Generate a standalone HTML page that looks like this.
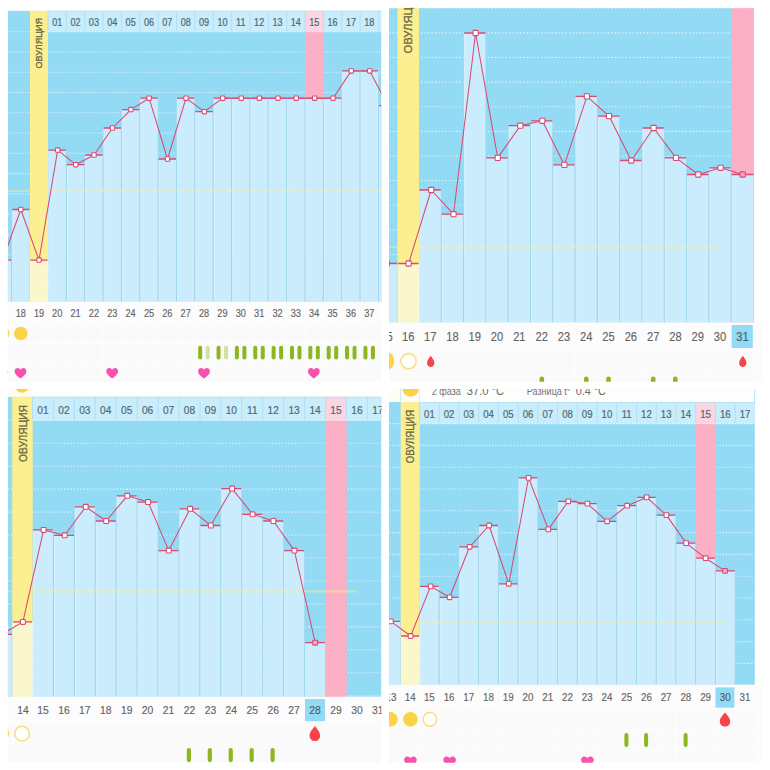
<!DOCTYPE html><html><head><meta charset="utf-8"><title>charts</title>
<style>html,body{margin:0;padding:0;background:#fff;}body{width:770px;height:770px;overflow:hidden;font-family:"Liberation Sans",sans-serif;}svg{display:block;font-family:"Liberation Sans",sans-serif;}</style></head><body>
<svg width="770" height="770" viewBox="0 0 770 770">
<rect x="0" y="0" width="770" height="770" fill="#ffffff" />
<rect x="753.9" y="322.5" width="8.3" height="59.2" fill="#FCFCFC" />
<rect x="754.9" y="684.8" width="7.5" height="77.9" fill="#FCFCFC" />
<clipPath id="c1"><rect x="7.8" y="8.2" width="373.6" height="373.5"/></clipPath>
<g clip-path="url(#c1)">
<rect x="7.8" y="10.9" width="373.6" height="290.8" fill="#93DAF4" />
<rect x="305.04" y="31.7" width="18.36" height="270" fill="#FBB0C5" />
<line x1="7.8" y1="31.7" x2="381.4" y2="31.7" stroke="#ffffff" stroke-width="1.1" stroke-dasharray="1.15 1.75" opacity="0.72"/>
<line x1="7.8" y1="51.97" x2="381.4" y2="51.97" stroke="#ffffff" stroke-width="1.1" stroke-dasharray="1.15 1.75" opacity="0.72"/>
<line x1="7.8" y1="72.24" x2="381.4" y2="72.24" stroke="#ffffff" stroke-width="1.1" stroke-dasharray="1.15 1.75" opacity="0.72"/>
<line x1="7.8" y1="92.51" x2="381.4" y2="92.51" stroke="#ffffff" stroke-width="1.1" stroke-dasharray="1.15 1.75" opacity="0.72"/>
<line x1="7.8" y1="112.78" x2="381.4" y2="112.78" stroke="#ffffff" stroke-width="1.1" stroke-dasharray="1.15 1.75" opacity="0.72"/>
<line x1="7.8" y1="133.05" x2="381.4" y2="133.05" stroke="#ffffff" stroke-width="1.1" stroke-dasharray="1.15 1.75" opacity="0.72"/>
<line x1="7.8" y1="153.32" x2="381.4" y2="153.32" stroke="#ffffff" stroke-width="1.1" stroke-dasharray="1.15 1.75" opacity="0.72"/>
<line x1="7.8" y1="173.59" x2="381.4" y2="173.59" stroke="#ffffff" stroke-width="1.1" stroke-dasharray="1.15 1.75" opacity="0.72"/>
<line x1="7.8" y1="193.86" x2="381.4" y2="193.86" stroke="#ffffff" stroke-width="1.1" stroke-dasharray="1.15 1.75" opacity="0.72"/>
<line x1="7.8" y1="214.13" x2="381.4" y2="214.13" stroke="#ffffff" stroke-width="1.1" stroke-dasharray="1.15 1.75" opacity="0.72"/>
<line x1="7.8" y1="234.4" x2="381.4" y2="234.4" stroke="#ffffff" stroke-width="1.1" stroke-dasharray="1.15 1.75" opacity="0.72"/>
<line x1="7.8" y1="254.67" x2="381.4" y2="254.67" stroke="#ffffff" stroke-width="1.1" stroke-dasharray="1.15 1.75" opacity="0.72"/>
<line x1="7.8" y1="274.94" x2="381.4" y2="274.94" stroke="#ffffff" stroke-width="1.1" stroke-dasharray="1.15 1.75" opacity="0.72"/>
<line x1="7.8" y1="295.21" x2="381.4" y2="295.21" stroke="#ffffff" stroke-width="1.1" stroke-dasharray="1.15 1.75" opacity="0.72"/>
<rect x="305.04" y="32.5" width="18.36" height="269.2" fill="#FBB0C5" />
<rect x="30" y="10.9" width="18" height="249.2" fill="#FBEF92" />
<rect x="30" y="260.1" width="18" height="41.6" fill="#FBF7CC" />
<rect x="7.8" y="260.1" width="3.9" height="41.6" fill="#CBECFD" />
<rect x="11.7" y="209.5" width="18.3" height="92.2" fill="#CBECFD" />
<rect x="48" y="150.1" width="18.36" height="151.6" fill="#CBECFD" />
<rect x="66.36" y="164.7" width="18.36" height="137" fill="#CBECFD" />
<rect x="84.72" y="155" width="18.36" height="146.7" fill="#CBECFD" />
<rect x="103.08" y="128" width="18.36" height="173.7" fill="#CBECFD" />
<rect x="121.44" y="109.6" width="18.36" height="192.1" fill="#CBECFD" />
<rect x="139.8" y="98.2" width="18.36" height="203.5" fill="#CBECFD" />
<rect x="158.16" y="159" width="18.36" height="142.7" fill="#CBECFD" />
<rect x="176.52" y="98.2" width="18.36" height="203.5" fill="#CBECFD" />
<rect x="194.88" y="111.7" width="18.36" height="190" fill="#CBECFD" />
<rect x="213.24" y="98.2" width="18.36" height="203.5" fill="#CBECFD" />
<rect x="231.6" y="98.2" width="18.36" height="203.5" fill="#CBECFD" />
<rect x="249.96" y="98.2" width="18.36" height="203.5" fill="#CBECFD" />
<rect x="268.32" y="98.2" width="18.36" height="203.5" fill="#CBECFD" />
<rect x="286.68" y="98.2" width="18.36" height="203.5" fill="#CBECFD" />
<rect x="305.04" y="98.2" width="18.36" height="203.5" fill="#CBECFD" />
<rect x="323.4" y="98.2" width="18.36" height="203.5" fill="#CBECFD" />
<rect x="341.76" y="70.9" width="18.36" height="230.8" fill="#CBECFD" />
<rect x="360.12" y="70.9" width="18.36" height="230.8" fill="#CBECFD" />
<rect x="378.5" y="105.7" width="2.9" height="196" fill="#CBECFD" />
<line x1="7.8" y1="260.1" x2="7.8" y2="301.7" stroke="#9CD1EA" stroke-width="0.9" opacity="0.7"/>
<line x1="11.7" y1="260.1" x2="11.7" y2="301.7" stroke="#9CD1EA" stroke-width="0.9" opacity="0.7"/>
<line x1="8.8" y1="261.1" x2="8.8" y2="301.7" stroke="#DDF4FE" stroke-width="0.9" opacity="0.7"/>
<line x1="11.7" y1="209.5" x2="11.7" y2="301.7" stroke="#9CD1EA" stroke-width="0.9" opacity="0.7"/>
<line x1="30" y1="209.5" x2="30" y2="301.7" stroke="#9CD1EA" stroke-width="0.9" opacity="0.7"/>
<line x1="12.7" y1="210.5" x2="12.7" y2="301.7" stroke="#DDF4FE" stroke-width="0.9" opacity="0.7"/>
<line x1="48" y1="150.1" x2="48" y2="301.7" stroke="#9CD1EA" stroke-width="0.9" opacity="0.7"/>
<line x1="66.36" y1="150.1" x2="66.36" y2="301.7" stroke="#9CD1EA" stroke-width="0.9" opacity="0.7"/>
<line x1="49" y1="151.1" x2="49" y2="301.7" stroke="#DDF4FE" stroke-width="0.9" opacity="0.7"/>
<line x1="66.36" y1="164.7" x2="66.36" y2="301.7" stroke="#9CD1EA" stroke-width="0.9" opacity="0.7"/>
<line x1="84.72" y1="164.7" x2="84.72" y2="301.7" stroke="#9CD1EA" stroke-width="0.9" opacity="0.7"/>
<line x1="67.36" y1="165.7" x2="67.36" y2="301.7" stroke="#DDF4FE" stroke-width="0.9" opacity="0.7"/>
<line x1="84.72" y1="155" x2="84.72" y2="301.7" stroke="#9CD1EA" stroke-width="0.9" opacity="0.7"/>
<line x1="103.08" y1="155" x2="103.08" y2="301.7" stroke="#9CD1EA" stroke-width="0.9" opacity="0.7"/>
<line x1="85.72" y1="156" x2="85.72" y2="301.7" stroke="#DDF4FE" stroke-width="0.9" opacity="0.7"/>
<line x1="103.08" y1="128" x2="103.08" y2="301.7" stroke="#9CD1EA" stroke-width="0.9" opacity="0.7"/>
<line x1="121.44" y1="128" x2="121.44" y2="301.7" stroke="#9CD1EA" stroke-width="0.9" opacity="0.7"/>
<line x1="104.08" y1="129" x2="104.08" y2="301.7" stroke="#DDF4FE" stroke-width="0.9" opacity="0.7"/>
<line x1="121.44" y1="109.6" x2="121.44" y2="301.7" stroke="#9CD1EA" stroke-width="0.9" opacity="0.7"/>
<line x1="139.8" y1="109.6" x2="139.8" y2="301.7" stroke="#9CD1EA" stroke-width="0.9" opacity="0.7"/>
<line x1="122.44" y1="110.6" x2="122.44" y2="301.7" stroke="#DDF4FE" stroke-width="0.9" opacity="0.7"/>
<line x1="139.8" y1="98.2" x2="139.8" y2="301.7" stroke="#9CD1EA" stroke-width="0.9" opacity="0.7"/>
<line x1="158.16" y1="98.2" x2="158.16" y2="301.7" stroke="#9CD1EA" stroke-width="0.9" opacity="0.7"/>
<line x1="140.8" y1="99.2" x2="140.8" y2="301.7" stroke="#DDF4FE" stroke-width="0.9" opacity="0.7"/>
<line x1="158.16" y1="159" x2="158.16" y2="301.7" stroke="#9CD1EA" stroke-width="0.9" opacity="0.7"/>
<line x1="176.52" y1="159" x2="176.52" y2="301.7" stroke="#9CD1EA" stroke-width="0.9" opacity="0.7"/>
<line x1="159.16" y1="160" x2="159.16" y2="301.7" stroke="#DDF4FE" stroke-width="0.9" opacity="0.7"/>
<line x1="176.52" y1="98.2" x2="176.52" y2="301.7" stroke="#9CD1EA" stroke-width="0.9" opacity="0.7"/>
<line x1="194.88" y1="98.2" x2="194.88" y2="301.7" stroke="#9CD1EA" stroke-width="0.9" opacity="0.7"/>
<line x1="177.52" y1="99.2" x2="177.52" y2="301.7" stroke="#DDF4FE" stroke-width="0.9" opacity="0.7"/>
<line x1="194.88" y1="111.7" x2="194.88" y2="301.7" stroke="#9CD1EA" stroke-width="0.9" opacity="0.7"/>
<line x1="213.24" y1="111.7" x2="213.24" y2="301.7" stroke="#9CD1EA" stroke-width="0.9" opacity="0.7"/>
<line x1="195.88" y1="112.7" x2="195.88" y2="301.7" stroke="#DDF4FE" stroke-width="0.9" opacity="0.7"/>
<line x1="213.24" y1="98.2" x2="213.24" y2="301.7" stroke="#9CD1EA" stroke-width="0.9" opacity="0.7"/>
<line x1="231.6" y1="98.2" x2="231.6" y2="301.7" stroke="#9CD1EA" stroke-width="0.9" opacity="0.7"/>
<line x1="214.24" y1="99.2" x2="214.24" y2="301.7" stroke="#DDF4FE" stroke-width="0.9" opacity="0.7"/>
<line x1="231.6" y1="98.2" x2="231.6" y2="301.7" stroke="#9CD1EA" stroke-width="0.9" opacity="0.7"/>
<line x1="249.96" y1="98.2" x2="249.96" y2="301.7" stroke="#9CD1EA" stroke-width="0.9" opacity="0.7"/>
<line x1="232.6" y1="99.2" x2="232.6" y2="301.7" stroke="#DDF4FE" stroke-width="0.9" opacity="0.7"/>
<line x1="249.96" y1="98.2" x2="249.96" y2="301.7" stroke="#9CD1EA" stroke-width="0.9" opacity="0.7"/>
<line x1="268.32" y1="98.2" x2="268.32" y2="301.7" stroke="#9CD1EA" stroke-width="0.9" opacity="0.7"/>
<line x1="250.96" y1="99.2" x2="250.96" y2="301.7" stroke="#DDF4FE" stroke-width="0.9" opacity="0.7"/>
<line x1="268.32" y1="98.2" x2="268.32" y2="301.7" stroke="#9CD1EA" stroke-width="0.9" opacity="0.7"/>
<line x1="286.68" y1="98.2" x2="286.68" y2="301.7" stroke="#9CD1EA" stroke-width="0.9" opacity="0.7"/>
<line x1="269.32" y1="99.2" x2="269.32" y2="301.7" stroke="#DDF4FE" stroke-width="0.9" opacity="0.7"/>
<line x1="286.68" y1="98.2" x2="286.68" y2="301.7" stroke="#9CD1EA" stroke-width="0.9" opacity="0.7"/>
<line x1="305.04" y1="98.2" x2="305.04" y2="301.7" stroke="#9CD1EA" stroke-width="0.9" opacity="0.7"/>
<line x1="287.68" y1="99.2" x2="287.68" y2="301.7" stroke="#DDF4FE" stroke-width="0.9" opacity="0.7"/>
<line x1="305.04" y1="98.2" x2="305.04" y2="301.7" stroke="#9CD1EA" stroke-width="0.9" opacity="0.7"/>
<line x1="323.4" y1="98.2" x2="323.4" y2="301.7" stroke="#9CD1EA" stroke-width="0.9" opacity="0.7"/>
<line x1="306.04" y1="99.2" x2="306.04" y2="301.7" stroke="#DDF4FE" stroke-width="0.9" opacity="0.7"/>
<line x1="323.4" y1="98.2" x2="323.4" y2="301.7" stroke="#9CD1EA" stroke-width="0.9" opacity="0.7"/>
<line x1="341.76" y1="98.2" x2="341.76" y2="301.7" stroke="#9CD1EA" stroke-width="0.9" opacity="0.7"/>
<line x1="324.4" y1="99.2" x2="324.4" y2="301.7" stroke="#DDF4FE" stroke-width="0.9" opacity="0.7"/>
<line x1="341.76" y1="70.9" x2="341.76" y2="301.7" stroke="#9CD1EA" stroke-width="0.9" opacity="0.7"/>
<line x1="360.12" y1="70.9" x2="360.12" y2="301.7" stroke="#9CD1EA" stroke-width="0.9" opacity="0.7"/>
<line x1="342.76" y1="71.9" x2="342.76" y2="301.7" stroke="#DDF4FE" stroke-width="0.9" opacity="0.7"/>
<line x1="360.12" y1="70.9" x2="360.12" y2="301.7" stroke="#9CD1EA" stroke-width="0.9" opacity="0.7"/>
<line x1="378.48" y1="70.9" x2="378.48" y2="301.7" stroke="#9CD1EA" stroke-width="0.9" opacity="0.7"/>
<line x1="361.12" y1="71.9" x2="361.12" y2="301.7" stroke="#DDF4FE" stroke-width="0.9" opacity="0.7"/>
<line x1="378.5" y1="105.7" x2="378.5" y2="301.7" stroke="#9CD1EA" stroke-width="0.9" opacity="0.7"/>
<line x1="381.4" y1="105.7" x2="381.4" y2="301.7" stroke="#9CD1EA" stroke-width="0.9" opacity="0.7"/>
<line x1="379.5" y1="106.7" x2="379.5" y2="301.7" stroke="#DDF4FE" stroke-width="0.9" opacity="0.7"/>
<line x1="7.8" y1="190.9" x2="381.4" y2="190.9" stroke="#F5F09A" stroke-width="2.2" opacity="0.44"/>
<rect x="30" y="10.9" width="18" height="249.2" fill="#FBEF92" />
<rect x="30" y="260.1" width="18" height="41.6" fill="#FBF7CC" />
<line x1="48" y1="260.1" x2="48" y2="301.7" stroke="#ffffff" stroke-width="1" stroke-dasharray="14 2" opacity="0.5"/>
<rect x="48" y="10.9" width="18.36" height="20.8" fill="#C9EDFB" />
<line x1="48" y1="10.9" x2="48" y2="31.7" stroke="#B2DFF3" stroke-width="0.9" />
<rect x="66.36" y="10.9" width="18.36" height="20.8" fill="#C9EDFB" />
<line x1="66.36" y1="10.9" x2="66.36" y2="31.7" stroke="#B2DFF3" stroke-width="0.9" />
<rect x="84.72" y="10.9" width="18.36" height="20.8" fill="#C9EDFB" />
<line x1="84.72" y1="10.9" x2="84.72" y2="31.7" stroke="#B2DFF3" stroke-width="0.9" />
<rect x="103.08" y="10.9" width="18.36" height="20.8" fill="#C9EDFB" />
<line x1="103.08" y1="10.9" x2="103.08" y2="31.7" stroke="#B2DFF3" stroke-width="0.9" />
<rect x="121.44" y="10.9" width="18.36" height="20.8" fill="#C9EDFB" />
<line x1="121.44" y1="10.9" x2="121.44" y2="31.7" stroke="#B2DFF3" stroke-width="0.9" />
<rect x="139.8" y="10.9" width="18.36" height="20.8" fill="#C9EDFB" />
<line x1="139.8" y1="10.9" x2="139.8" y2="31.7" stroke="#B2DFF3" stroke-width="0.9" />
<rect x="158.16" y="10.9" width="18.36" height="20.8" fill="#C9EDFB" />
<line x1="158.16" y1="10.9" x2="158.16" y2="31.7" stroke="#B2DFF3" stroke-width="0.9" />
<rect x="176.52" y="10.9" width="18.36" height="20.8" fill="#C9EDFB" />
<line x1="176.52" y1="10.9" x2="176.52" y2="31.7" stroke="#B2DFF3" stroke-width="0.9" />
<rect x="194.88" y="10.9" width="18.36" height="20.8" fill="#C9EDFB" />
<line x1="194.88" y1="10.9" x2="194.88" y2="31.7" stroke="#B2DFF3" stroke-width="0.9" />
<rect x="213.24" y="10.9" width="18.36" height="20.8" fill="#C9EDFB" />
<line x1="213.24" y1="10.9" x2="213.24" y2="31.7" stroke="#B2DFF3" stroke-width="0.9" />
<rect x="231.6" y="10.9" width="18.36" height="20.8" fill="#C9EDFB" />
<line x1="231.6" y1="10.9" x2="231.6" y2="31.7" stroke="#B2DFF3" stroke-width="0.9" />
<rect x="249.96" y="10.9" width="18.36" height="20.8" fill="#C9EDFB" />
<line x1="249.96" y1="10.9" x2="249.96" y2="31.7" stroke="#B2DFF3" stroke-width="0.9" />
<rect x="268.32" y="10.9" width="18.36" height="20.8" fill="#C9EDFB" />
<line x1="268.32" y1="10.9" x2="268.32" y2="31.7" stroke="#B2DFF3" stroke-width="0.9" />
<rect x="286.68" y="10.9" width="18.36" height="20.8" fill="#C9EDFB" />
<line x1="286.68" y1="10.9" x2="286.68" y2="31.7" stroke="#B2DFF3" stroke-width="0.9" />
<rect x="305.04" y="10.9" width="18.36" height="20.8" fill="#FCD5E0" />
<line x1="305.04" y1="10.9" x2="305.04" y2="31.7" stroke="#B2DFF3" stroke-width="0.9" />
<rect x="323.4" y="10.9" width="18.36" height="20.8" fill="#C9EDFB" />
<line x1="323.4" y1="10.9" x2="323.4" y2="31.7" stroke="#B2DFF3" stroke-width="0.9" />
<rect x="341.76" y="10.9" width="18.36" height="20.8" fill="#C9EDFB" />
<line x1="341.76" y1="10.9" x2="341.76" y2="31.7" stroke="#B2DFF3" stroke-width="0.9" />
<rect x="360.12" y="10.9" width="18.36" height="20.8" fill="#C9EDFB" />
<line x1="360.12" y1="10.9" x2="360.12" y2="31.7" stroke="#B2DFF3" stroke-width="0.9" />
<rect x="378.5" y="10.9" width="2.9" height="20.8" fill="#C9EDFB" />
<line x1="378.5" y1="10.9" x2="378.5" y2="31.7" stroke="#B2DFF3" stroke-width="0.9" />
<line x1="48" y1="11.3" x2="381.4" y2="11.3" stroke="#B2DFF3" stroke-width="0.8" />
<text transform="translate(57.18 25.94) scale(0.9 1)" font-size="10.1" fill="#4F6975" text-anchor="middle" stroke="#4F6975" stroke-width="0.2">01</text>
<text transform="translate(75.54 25.94) scale(0.9 1)" font-size="10.1" fill="#4F6975" text-anchor="middle" stroke="#4F6975" stroke-width="0.2">02</text>
<text transform="translate(93.9 25.94) scale(0.9 1)" font-size="10.1" fill="#4F6975" text-anchor="middle" stroke="#4F6975" stroke-width="0.2">03</text>
<text transform="translate(112.26 25.94) scale(0.9 1)" font-size="10.1" fill="#4F6975" text-anchor="middle" stroke="#4F6975" stroke-width="0.2">04</text>
<text transform="translate(130.62 25.94) scale(0.9 1)" font-size="10.1" fill="#4F6975" text-anchor="middle" stroke="#4F6975" stroke-width="0.2">05</text>
<text transform="translate(148.98 25.94) scale(0.9 1)" font-size="10.1" fill="#4F6975" text-anchor="middle" stroke="#4F6975" stroke-width="0.2">06</text>
<text transform="translate(167.34 25.94) scale(0.9 1)" font-size="10.1" fill="#4F6975" text-anchor="middle" stroke="#4F6975" stroke-width="0.2">07</text>
<text transform="translate(185.7 25.94) scale(0.9 1)" font-size="10.1" fill="#4F6975" text-anchor="middle" stroke="#4F6975" stroke-width="0.2">08</text>
<text transform="translate(204.06 25.94) scale(0.9 1)" font-size="10.1" fill="#4F6975" text-anchor="middle" stroke="#4F6975" stroke-width="0.2">09</text>
<text transform="translate(222.42 25.94) scale(0.9 1)" font-size="10.1" fill="#4F6975" text-anchor="middle" stroke="#4F6975" stroke-width="0.2">10</text>
<text transform="translate(240.78 25.94) scale(0.9 1)" font-size="10.1" fill="#4F6975" text-anchor="middle" stroke="#4F6975" stroke-width="0.2">11</text>
<text transform="translate(259.14 25.94) scale(0.9 1)" font-size="10.1" fill="#4F6975" text-anchor="middle" stroke="#4F6975" stroke-width="0.2">12</text>
<text transform="translate(277.5 25.94) scale(0.9 1)" font-size="10.1" fill="#4F6975" text-anchor="middle" stroke="#4F6975" stroke-width="0.2">13</text>
<text transform="translate(295.86 25.94) scale(0.9 1)" font-size="10.1" fill="#4F6975" text-anchor="middle" stroke="#4F6975" stroke-width="0.2">14</text>
<text transform="translate(314.22 25.94) scale(0.9 1)" font-size="10.1" fill="#4F6975" text-anchor="middle" stroke="#4F6975" stroke-width="0.2">15</text>
<text transform="translate(332.58 25.94) scale(0.9 1)" font-size="10.1" fill="#4F6975" text-anchor="middle" stroke="#4F6975" stroke-width="0.2">16</text>
<text transform="translate(350.94 25.94) scale(0.9 1)" font-size="10.1" fill="#4F6975" text-anchor="middle" stroke="#4F6975" stroke-width="0.2">17</text>
<text transform="translate(369.3 25.94) scale(0.9 1)" font-size="10.1" fill="#4F6975" text-anchor="middle" stroke="#4F6975" stroke-width="0.2">18</text>
<text transform="translate(379.95 25.94) scale(0.9 1)" font-size="10.1" fill="#4F6975" text-anchor="middle" stroke="#4F6975" stroke-width="0.2"></text>
<line x1="48" y1="31.7" x2="381.4" y2="31.7" stroke="#ffffff" stroke-width="1.1" stroke-dasharray="1.15 1.75" opacity="0.72"/>
<line x1="8.3" y1="260.1" x2="11.2" y2="260.1" stroke="#D84A72" stroke-width="1.3" />
<line x1="12.2" y1="209.5" x2="29.5" y2="209.5" stroke="#D84A72" stroke-width="1.3" />
<line x1="30.5" y1="260.1" x2="47.5" y2="260.1" stroke="#D84A72" stroke-width="1.3" />
<line x1="48.5" y1="150.1" x2="65.86" y2="150.1" stroke="#D84A72" stroke-width="1.3" />
<line x1="66.86" y1="164.7" x2="84.22" y2="164.7" stroke="#D84A72" stroke-width="1.3" />
<line x1="85.22" y1="155" x2="102.58" y2="155" stroke="#D84A72" stroke-width="1.3" />
<line x1="103.58" y1="128" x2="120.94" y2="128" stroke="#D84A72" stroke-width="1.3" />
<line x1="121.94" y1="109.6" x2="139.3" y2="109.6" stroke="#D84A72" stroke-width="1.3" />
<line x1="140.3" y1="98.2" x2="157.66" y2="98.2" stroke="#D84A72" stroke-width="1.3" />
<line x1="158.66" y1="159" x2="176.02" y2="159" stroke="#D84A72" stroke-width="1.3" />
<line x1="177.02" y1="98.2" x2="194.38" y2="98.2" stroke="#D84A72" stroke-width="1.3" />
<line x1="195.38" y1="111.7" x2="212.74" y2="111.7" stroke="#D84A72" stroke-width="1.3" />
<line x1="213.74" y1="98.2" x2="231.1" y2="98.2" stroke="#D84A72" stroke-width="1.3" />
<line x1="232.1" y1="98.2" x2="249.46" y2="98.2" stroke="#D84A72" stroke-width="1.3" />
<line x1="250.46" y1="98.2" x2="267.82" y2="98.2" stroke="#D84A72" stroke-width="1.3" />
<line x1="268.82" y1="98.2" x2="286.18" y2="98.2" stroke="#D84A72" stroke-width="1.3" />
<line x1="287.18" y1="98.2" x2="304.54" y2="98.2" stroke="#D84A72" stroke-width="1.3" />
<line x1="305.54" y1="98.2" x2="322.9" y2="98.2" stroke="#D84A72" stroke-width="1.3" />
<line x1="323.9" y1="98.2" x2="341.26" y2="98.2" stroke="#D84A72" stroke-width="1.3" />
<line x1="342.26" y1="70.9" x2="359.62" y2="70.9" stroke="#D84A72" stroke-width="1.3" />
<line x1="360.62" y1="70.9" x2="377.98" y2="70.9" stroke="#D84A72" stroke-width="1.3" />
<line x1="379" y1="105.7" x2="381.5" y2="105.7" stroke="#D84A72" stroke-width="1.3" />
<polyline points="7.8,245.8 20.8,209.5 39,260.1 57.7,150.1 75.8,164.7 94,155 112.5,128 130.9,109.6 149.1,98.2 167.5,159 186,98.2 204.3,111.7 222.7,98.2 241.2,98.2 259.4,98.2 278,98.2 296.2,98.2 314.7,98.2 333,98.2 351.3,70.9 369.7,70.9 388,105.7" fill="none" stroke="#D84A72" stroke-width="1.05" stroke-linejoin="round"/>
<rect x="18.6" y="207.3" width="4.4" height="4.4" rx="0.8" fill="#ffffff" stroke="#D84A72" stroke-width="1.1"/>
<rect x="36.8" y="257.9" width="4.4" height="4.4" rx="0.8" fill="#ffffff" stroke="#D84A72" stroke-width="1.1"/>
<rect x="55.5" y="147.9" width="4.4" height="4.4" rx="0.8" fill="#ffffff" stroke="#D84A72" stroke-width="1.1"/>
<rect x="73.6" y="162.5" width="4.4" height="4.4" rx="0.8" fill="#ffffff" stroke="#D84A72" stroke-width="1.1"/>
<rect x="91.8" y="152.8" width="4.4" height="4.4" rx="0.8" fill="#ffffff" stroke="#D84A72" stroke-width="1.1"/>
<rect x="110.3" y="125.8" width="4.4" height="4.4" rx="0.8" fill="#ffffff" stroke="#D84A72" stroke-width="1.1"/>
<rect x="128.7" y="107.4" width="4.4" height="4.4" rx="0.8" fill="#ffffff" stroke="#D84A72" stroke-width="1.1"/>
<rect x="146.9" y="96" width="4.4" height="4.4" rx="0.8" fill="#ffffff" stroke="#D84A72" stroke-width="1.1"/>
<rect x="165.3" y="156.8" width="4.4" height="4.4" rx="0.8" fill="#ffffff" stroke="#D84A72" stroke-width="1.1"/>
<rect x="183.8" y="96" width="4.4" height="4.4" rx="0.8" fill="#ffffff" stroke="#D84A72" stroke-width="1.1"/>
<rect x="202.1" y="109.5" width="4.4" height="4.4" rx="0.8" fill="#ffffff" stroke="#D84A72" stroke-width="1.1"/>
<rect x="220.5" y="96" width="4.4" height="4.4" rx="0.8" fill="#ffffff" stroke="#D84A72" stroke-width="1.1"/>
<rect x="239" y="96" width="4.4" height="4.4" rx="0.8" fill="#ffffff" stroke="#D84A72" stroke-width="1.1"/>
<rect x="257.2" y="96" width="4.4" height="4.4" rx="0.8" fill="#ffffff" stroke="#D84A72" stroke-width="1.1"/>
<rect x="275.8" y="96" width="4.4" height="4.4" rx="0.8" fill="#ffffff" stroke="#D84A72" stroke-width="1.1"/>
<rect x="294" y="96" width="4.4" height="4.4" rx="0.8" fill="#ffffff" stroke="#D84A72" stroke-width="1.1"/>
<rect x="312.5" y="96" width="4.4" height="4.4" rx="0.8" fill="#ffffff" stroke="#D84A72" stroke-width="1.1"/>
<rect x="330.8" y="96" width="4.4" height="4.4" rx="0.8" fill="#ffffff" stroke="#D84A72" stroke-width="1.1"/>
<rect x="349.1" y="68.7" width="4.4" height="4.4" rx="0.8" fill="#ffffff" stroke="#D84A72" stroke-width="1.1"/>
<rect x="367.5" y="68.7" width="4.4" height="4.4" rx="0.8" fill="#ffffff" stroke="#D84A72" stroke-width="1.1"/>
<text transform="translate(41.8 68.5) rotate(-90)" font-size="9.2" fill="#6A6742" stroke="#6A6742" stroke-width="0.3" textLength="50.5" lengthAdjust="spacingAndGlyphs">ОВУЛЯЦИЯ</text>
<rect x="7.8" y="301.7" width="373.6" height="20.8" fill="#FCFCFC" />
<rect x="7.8" y="322.5" width="373.6" height="59.2" fill="#FAFAFA" />
<line x1="11.7" y1="322.5" x2="11.7" y2="381.7" stroke="#ffffff" stroke-width="1.2" opacity="0.6"/>
<line x1="30" y1="322.5" x2="30" y2="381.7" stroke="#ffffff" stroke-width="1.2" opacity="0.6"/>
<line x1="48" y1="322.5" x2="48" y2="381.7" stroke="#ffffff" stroke-width="1.2" opacity="0.6"/>
<line x1="66.36" y1="322.5" x2="66.36" y2="381.7" stroke="#ffffff" stroke-width="1.2" opacity="0.6"/>
<line x1="84.72" y1="322.5" x2="84.72" y2="381.7" stroke="#ffffff" stroke-width="1.2" opacity="0.6"/>
<line x1="103.08" y1="322.5" x2="103.08" y2="381.7" stroke="#ffffff" stroke-width="1.2" opacity="0.6"/>
<line x1="121.44" y1="322.5" x2="121.44" y2="381.7" stroke="#ffffff" stroke-width="1.2" opacity="0.6"/>
<line x1="139.8" y1="322.5" x2="139.8" y2="381.7" stroke="#ffffff" stroke-width="1.2" opacity="0.6"/>
<line x1="158.16" y1="322.5" x2="158.16" y2="381.7" stroke="#ffffff" stroke-width="1.2" opacity="0.6"/>
<line x1="176.52" y1="322.5" x2="176.52" y2="381.7" stroke="#ffffff" stroke-width="1.2" opacity="0.6"/>
<line x1="194.88" y1="322.5" x2="194.88" y2="381.7" stroke="#ffffff" stroke-width="1.2" opacity="0.6"/>
<line x1="213.24" y1="322.5" x2="213.24" y2="381.7" stroke="#ffffff" stroke-width="1.2" opacity="0.6"/>
<line x1="231.6" y1="322.5" x2="231.6" y2="381.7" stroke="#ffffff" stroke-width="1.2" opacity="0.6"/>
<line x1="249.96" y1="322.5" x2="249.96" y2="381.7" stroke="#ffffff" stroke-width="1.2" opacity="0.6"/>
<line x1="268.32" y1="322.5" x2="268.32" y2="381.7" stroke="#ffffff" stroke-width="1.2" opacity="0.6"/>
<line x1="286.68" y1="322.5" x2="286.68" y2="381.7" stroke="#ffffff" stroke-width="1.2" opacity="0.6"/>
<line x1="305.04" y1="322.5" x2="305.04" y2="381.7" stroke="#ffffff" stroke-width="1.2" opacity="0.6"/>
<line x1="323.4" y1="322.5" x2="323.4" y2="381.7" stroke="#ffffff" stroke-width="1.2" opacity="0.6"/>
<line x1="341.76" y1="322.5" x2="341.76" y2="381.7" stroke="#ffffff" stroke-width="1.2" opacity="0.6"/>
<line x1="360.12" y1="322.5" x2="360.12" y2="381.7" stroke="#ffffff" stroke-width="1.2" opacity="0.6"/>
<line x1="7.8" y1="323.8" x2="381.4" y2="323.8" stroke="#ffffff" stroke-width="1.4" opacity="0.6"/>
<line x1="7.8" y1="343.2" x2="381.4" y2="343.2" stroke="#ffffff" stroke-width="1.4" opacity="0.6"/>
<line x1="7.8" y1="362.7" x2="381.4" y2="362.7" stroke="#ffffff" stroke-width="1.4" opacity="0.6"/>
<text transform="translate(20.8 316.77) scale(0.9 1)" font-size="10.2" fill="#646464" text-anchor="middle" stroke="#646464" stroke-width="0.15">18</text>
<text transform="translate(39 316.77) scale(0.9 1)" font-size="10.2" fill="#646464" text-anchor="middle" stroke="#646464" stroke-width="0.15">19</text>
<text transform="translate(57.18 316.77) scale(0.9 1)" font-size="10.2" fill="#646464" text-anchor="middle" stroke="#646464" stroke-width="0.15">20</text>
<text transform="translate(75.54 316.77) scale(0.9 1)" font-size="10.2" fill="#646464" text-anchor="middle" stroke="#646464" stroke-width="0.15">21</text>
<text transform="translate(93.9 316.77) scale(0.9 1)" font-size="10.2" fill="#646464" text-anchor="middle" stroke="#646464" stroke-width="0.15">22</text>
<text transform="translate(112.26 316.77) scale(0.9 1)" font-size="10.2" fill="#646464" text-anchor="middle" stroke="#646464" stroke-width="0.15">23</text>
<text transform="translate(130.62 316.77) scale(0.9 1)" font-size="10.2" fill="#646464" text-anchor="middle" stroke="#646464" stroke-width="0.15">24</text>
<text transform="translate(148.98 316.77) scale(0.9 1)" font-size="10.2" fill="#646464" text-anchor="middle" stroke="#646464" stroke-width="0.15">25</text>
<text transform="translate(167.34 316.77) scale(0.9 1)" font-size="10.2" fill="#646464" text-anchor="middle" stroke="#646464" stroke-width="0.15">26</text>
<text transform="translate(185.7 316.77) scale(0.9 1)" font-size="10.2" fill="#646464" text-anchor="middle" stroke="#646464" stroke-width="0.15">27</text>
<text transform="translate(204.06 316.77) scale(0.9 1)" font-size="10.2" fill="#646464" text-anchor="middle" stroke="#646464" stroke-width="0.15">28</text>
<text transform="translate(222.42 316.77) scale(0.9 1)" font-size="10.2" fill="#646464" text-anchor="middle" stroke="#646464" stroke-width="0.15">29</text>
<text transform="translate(240.78 316.77) scale(0.9 1)" font-size="10.2" fill="#646464" text-anchor="middle" stroke="#646464" stroke-width="0.15">30</text>
<text transform="translate(259.14 316.77) scale(0.9 1)" font-size="10.2" fill="#646464" text-anchor="middle" stroke="#646464" stroke-width="0.15">31</text>
<text transform="translate(277.5 316.77) scale(0.9 1)" font-size="10.2" fill="#646464" text-anchor="middle" stroke="#646464" stroke-width="0.15">32</text>
<text transform="translate(295.86 316.77) scale(0.9 1)" font-size="10.2" fill="#646464" text-anchor="middle" stroke="#646464" stroke-width="0.15">33</text>
<text transform="translate(314.22 316.77) scale(0.9 1)" font-size="10.2" fill="#646464" text-anchor="middle" stroke="#646464" stroke-width="0.15">34</text>
<text transform="translate(332.58 316.77) scale(0.9 1)" font-size="10.2" fill="#646464" text-anchor="middle" stroke="#646464" stroke-width="0.15">35</text>
<text transform="translate(350.94 316.77) scale(0.9 1)" font-size="10.2" fill="#646464" text-anchor="middle" stroke="#646464" stroke-width="0.15">36</text>
<text transform="translate(369.3 316.77) scale(0.9 1)" font-size="10.2" fill="#646464" text-anchor="middle" stroke="#646464" stroke-width="0.15">37</text>
<circle cx="2.6" cy="333.4" r="6.75" fill="#FAD448"/>
<circle cx="20.8" cy="333.4" r="6.75" fill="#FAD448"/>
<rect x="198.18" y="345.8" width="4" height="13.6" fill="#8CB71F" rx="2"/>
<rect x="205.68" y="345.8" width="4" height="13.6" fill="#D3DFA6" rx="2"/>
<rect x="216.54" y="345.8" width="4" height="13.6" fill="#8CB71F" rx="2"/>
<rect x="224.04" y="345.8" width="4" height="13.6" fill="#D3DFA6" rx="2"/>
<rect x="234.9" y="345.8" width="4" height="13.6" fill="#8CB71F" rx="2"/>
<rect x="242.4" y="345.8" width="4" height="13.6" fill="#8CB71F" rx="2"/>
<rect x="253.26" y="345.8" width="4" height="13.6" fill="#8CB71F" rx="2"/>
<rect x="260.76" y="345.8" width="4" height="13.6" fill="#8CB71F" rx="2"/>
<rect x="271.62" y="345.8" width="4" height="13.6" fill="#8CB71F" rx="2"/>
<rect x="279.12" y="345.8" width="4" height="13.6" fill="#8CB71F" rx="2"/>
<rect x="289.98" y="345.8" width="4" height="13.6" fill="#8CB71F" rx="2"/>
<rect x="297.48" y="345.8" width="4" height="13.6" fill="#8CB71F" rx="2"/>
<rect x="308.34" y="345.8" width="4" height="13.6" fill="#8CB71F" rx="2"/>
<rect x="315.84" y="345.8" width="4" height="13.6" fill="#8CB71F" rx="2"/>
<rect x="326.7" y="345.8" width="4" height="13.6" fill="#8CB71F" rx="2"/>
<rect x="334.2" y="345.8" width="4" height="13.6" fill="#8CB71F" rx="2"/>
<rect x="345.06" y="345.8" width="4" height="13.6" fill="#8CB71F" rx="2"/>
<rect x="352.56" y="345.8" width="4" height="13.6" fill="#8CB71F" rx="2"/>
<rect x="363.42" y="345.8" width="4" height="13.6" fill="#8CB71F" rx="2"/>
<rect x="370.92" y="345.8" width="4" height="13.6" fill="#8CB71F" rx="2"/>
<path transform="translate(-3.7 368) scale(0.98 1.02)" fill="#F652AE" d="M5.2 9.8 C3.6 8.3 0 6.2 0 3.1 C0 1.2 1.4 0 3.1 0 C4.3 0 5.4 0.7 6 1.7 C6.6 0.7 7.7 0 8.9 0 C10.6 0 12 1.2 12 3.1 C12 6.2 8.4 8.3 6.8 9.8 Q6 10.6 5.2 9.8 Z"/>
<path transform="translate(14.6 368) scale(0.98 1.02)" fill="#F652AE" d="M5.2 9.8 C3.6 8.3 0 6.2 0 3.1 C0 1.2 1.4 0 3.1 0 C4.3 0 5.4 0.7 6 1.7 C6.6 0.7 7.7 0 8.9 0 C10.6 0 12 1.2 12 3.1 C12 6.2 8.4 8.3 6.8 9.8 Q6 10.6 5.2 9.8 Z"/>
<path transform="translate(106.3 368) scale(0.98 1.02)" fill="#F652AE" d="M5.2 9.8 C3.6 8.3 0 6.2 0 3.1 C0 1.2 1.4 0 3.1 0 C4.3 0 5.4 0.7 6 1.7 C6.6 0.7 7.7 0 8.9 0 C10.6 0 12 1.2 12 3.1 C12 6.2 8.4 8.3 6.8 9.8 Q6 10.6 5.2 9.8 Z"/>
<path transform="translate(198.1 368) scale(0.98 1.02)" fill="#F652AE" d="M5.2 9.8 C3.6 8.3 0 6.2 0 3.1 C0 1.2 1.4 0 3.1 0 C4.3 0 5.4 0.7 6 1.7 C6.6 0.7 7.7 0 8.9 0 C10.6 0 12 1.2 12 3.1 C12 6.2 8.4 8.3 6.8 9.8 Q6 10.6 5.2 9.8 Z"/>
<path transform="translate(308 368) scale(0.98 1.02)" fill="#F652AE" d="M5.2 9.8 C3.6 8.3 0 6.2 0 3.1 C0 1.2 1.4 0 3.1 0 C4.3 0 5.4 0.7 6 1.7 C6.6 0.7 7.7 0 8.9 0 C10.6 0 12 1.2 12 3.1 C12 6.2 8.4 8.3 6.8 9.8 Q6 10.6 5.2 9.8 Z"/>
</g>
<clipPath id="c2"><rect x="389" y="7.8" width="364.9" height="373.9"/></clipPath>
<g clip-path="url(#c2)">
<rect x="389" y="7.8" width="364.9" height="314.7" fill="#93DAF4" />
<rect x="731.6" y="7.8" width="22.3" height="314.7" fill="#FBB0C5" />
<line x1="389" y1="8.3" x2="753.9" y2="8.3" stroke="#ffffff" stroke-width="1.1" stroke-dasharray="1.4 2.13" opacity="0.72"/>
<line x1="389" y1="32.92" x2="753.9" y2="32.92" stroke="#ffffff" stroke-width="1.1" stroke-dasharray="1.4 2.13" opacity="0.72"/>
<line x1="389" y1="57.54" x2="753.9" y2="57.54" stroke="#ffffff" stroke-width="1.1" stroke-dasharray="1.4 2.13" opacity="0.72"/>
<line x1="389" y1="82.16" x2="753.9" y2="82.16" stroke="#ffffff" stroke-width="1.1" stroke-dasharray="1.4 2.13" opacity="0.72"/>
<line x1="389" y1="106.78" x2="753.9" y2="106.78" stroke="#ffffff" stroke-width="1.1" stroke-dasharray="1.4 2.13" opacity="0.72"/>
<line x1="389" y1="131.4" x2="753.9" y2="131.4" stroke="#ffffff" stroke-width="1.1" stroke-dasharray="1.4 2.13" opacity="0.72"/>
<line x1="389" y1="156.02" x2="753.9" y2="156.02" stroke="#ffffff" stroke-width="1.1" stroke-dasharray="1.4 2.13" opacity="0.72"/>
<line x1="389" y1="180.64" x2="753.9" y2="180.64" stroke="#ffffff" stroke-width="1.1" stroke-dasharray="1.4 2.13" opacity="0.72"/>
<line x1="389" y1="205.26" x2="753.9" y2="205.26" stroke="#ffffff" stroke-width="1.1" stroke-dasharray="1.4 2.13" opacity="0.72"/>
<line x1="389" y1="229.88" x2="753.9" y2="229.88" stroke="#ffffff" stroke-width="1.1" stroke-dasharray="1.4 2.13" opacity="0.72"/>
<line x1="389" y1="254.5" x2="753.9" y2="254.5" stroke="#ffffff" stroke-width="1.1" stroke-dasharray="1.4 2.13" opacity="0.72"/>
<line x1="389" y1="279.12" x2="753.9" y2="279.12" stroke="#ffffff" stroke-width="1.1" stroke-dasharray="1.4 2.13" opacity="0.72"/>
<line x1="389" y1="303.74" x2="753.9" y2="303.74" stroke="#ffffff" stroke-width="1.1" stroke-dasharray="1.4 2.13" opacity="0.72"/>
<rect x="731.6" y="8.6" width="22.3" height="313.9" fill="#FBB0C5" />
<rect x="397.7" y="7.8" width="21.3" height="255.7" fill="#FBEF92" />
<rect x="397.7" y="263.5" width="21.3" height="59" fill="#FBF7CC" />
<rect x="389" y="263.5" width="8.7" height="59" fill="#CBECFD" />
<rect x="419" y="190" width="22.3" height="132.5" fill="#CBECFD" />
<rect x="441.3" y="214.2" width="22.3" height="108.3" fill="#CBECFD" />
<rect x="463.6" y="33" width="22.3" height="289.5" fill="#CBECFD" />
<rect x="485.9" y="157.9" width="22.3" height="164.6" fill="#CBECFD" />
<rect x="508.2" y="125.7" width="22.3" height="196.8" fill="#CBECFD" />
<rect x="530.5" y="120.8" width="22.3" height="201.7" fill="#CBECFD" />
<rect x="552.8" y="164.9" width="22.3" height="157.6" fill="#CBECFD" />
<rect x="575.1" y="96.4" width="22.3" height="226.1" fill="#CBECFD" />
<rect x="597.4" y="116.1" width="22.3" height="206.4" fill="#CBECFD" />
<rect x="619.7" y="160.5" width="22.3" height="162" fill="#CBECFD" />
<rect x="642" y="128" width="22.3" height="194.5" fill="#CBECFD" />
<rect x="664.3" y="157.9" width="22.3" height="164.6" fill="#CBECFD" />
<rect x="686.6" y="174.5" width="22.3" height="148" fill="#CBECFD" />
<rect x="708.9" y="167.8" width="22.3" height="154.7" fill="#CBECFD" />
<rect x="731.2" y="174.5" width="22.7" height="148" fill="#CBECFD" />
<line x1="389" y1="263.5" x2="389" y2="322.5" stroke="#9CD1EA" stroke-width="0.9" opacity="0.7"/>
<line x1="397.7" y1="263.5" x2="397.7" y2="322.5" stroke="#9CD1EA" stroke-width="0.9" opacity="0.7"/>
<line x1="390" y1="264.5" x2="390" y2="322.5" stroke="#DDF4FE" stroke-width="0.9" opacity="0.7"/>
<line x1="419" y1="190" x2="419" y2="322.5" stroke="#9CD1EA" stroke-width="0.9" opacity="0.7"/>
<line x1="441.3" y1="190" x2="441.3" y2="322.5" stroke="#9CD1EA" stroke-width="0.9" opacity="0.7"/>
<line x1="420" y1="191" x2="420" y2="322.5" stroke="#DDF4FE" stroke-width="0.9" opacity="0.7"/>
<line x1="441.3" y1="214.2" x2="441.3" y2="322.5" stroke="#9CD1EA" stroke-width="0.9" opacity="0.7"/>
<line x1="463.6" y1="214.2" x2="463.6" y2="322.5" stroke="#9CD1EA" stroke-width="0.9" opacity="0.7"/>
<line x1="442.3" y1="215.2" x2="442.3" y2="322.5" stroke="#DDF4FE" stroke-width="0.9" opacity="0.7"/>
<line x1="463.6" y1="33" x2="463.6" y2="322.5" stroke="#9CD1EA" stroke-width="0.9" opacity="0.7"/>
<line x1="485.9" y1="33" x2="485.9" y2="322.5" stroke="#9CD1EA" stroke-width="0.9" opacity="0.7"/>
<line x1="464.6" y1="34" x2="464.6" y2="322.5" stroke="#DDF4FE" stroke-width="0.9" opacity="0.7"/>
<line x1="485.9" y1="157.9" x2="485.9" y2="322.5" stroke="#9CD1EA" stroke-width="0.9" opacity="0.7"/>
<line x1="508.2" y1="157.9" x2="508.2" y2="322.5" stroke="#9CD1EA" stroke-width="0.9" opacity="0.7"/>
<line x1="486.9" y1="158.9" x2="486.9" y2="322.5" stroke="#DDF4FE" stroke-width="0.9" opacity="0.7"/>
<line x1="508.2" y1="125.7" x2="508.2" y2="322.5" stroke="#9CD1EA" stroke-width="0.9" opacity="0.7"/>
<line x1="530.5" y1="125.7" x2="530.5" y2="322.5" stroke="#9CD1EA" stroke-width="0.9" opacity="0.7"/>
<line x1="509.2" y1="126.7" x2="509.2" y2="322.5" stroke="#DDF4FE" stroke-width="0.9" opacity="0.7"/>
<line x1="530.5" y1="120.8" x2="530.5" y2="322.5" stroke="#9CD1EA" stroke-width="0.9" opacity="0.7"/>
<line x1="552.8" y1="120.8" x2="552.8" y2="322.5" stroke="#9CD1EA" stroke-width="0.9" opacity="0.7"/>
<line x1="531.5" y1="121.8" x2="531.5" y2="322.5" stroke="#DDF4FE" stroke-width="0.9" opacity="0.7"/>
<line x1="552.8" y1="164.9" x2="552.8" y2="322.5" stroke="#9CD1EA" stroke-width="0.9" opacity="0.7"/>
<line x1="575.1" y1="164.9" x2="575.1" y2="322.5" stroke="#9CD1EA" stroke-width="0.9" opacity="0.7"/>
<line x1="553.8" y1="165.9" x2="553.8" y2="322.5" stroke="#DDF4FE" stroke-width="0.9" opacity="0.7"/>
<line x1="575.1" y1="96.4" x2="575.1" y2="322.5" stroke="#9CD1EA" stroke-width="0.9" opacity="0.7"/>
<line x1="597.4" y1="96.4" x2="597.4" y2="322.5" stroke="#9CD1EA" stroke-width="0.9" opacity="0.7"/>
<line x1="576.1" y1="97.4" x2="576.1" y2="322.5" stroke="#DDF4FE" stroke-width="0.9" opacity="0.7"/>
<line x1="597.4" y1="116.1" x2="597.4" y2="322.5" stroke="#9CD1EA" stroke-width="0.9" opacity="0.7"/>
<line x1="619.7" y1="116.1" x2="619.7" y2="322.5" stroke="#9CD1EA" stroke-width="0.9" opacity="0.7"/>
<line x1="598.4" y1="117.1" x2="598.4" y2="322.5" stroke="#DDF4FE" stroke-width="0.9" opacity="0.7"/>
<line x1="619.7" y1="160.5" x2="619.7" y2="322.5" stroke="#9CD1EA" stroke-width="0.9" opacity="0.7"/>
<line x1="642" y1="160.5" x2="642" y2="322.5" stroke="#9CD1EA" stroke-width="0.9" opacity="0.7"/>
<line x1="620.7" y1="161.5" x2="620.7" y2="322.5" stroke="#DDF4FE" stroke-width="0.9" opacity="0.7"/>
<line x1="642" y1="128" x2="642" y2="322.5" stroke="#9CD1EA" stroke-width="0.9" opacity="0.7"/>
<line x1="664.3" y1="128" x2="664.3" y2="322.5" stroke="#9CD1EA" stroke-width="0.9" opacity="0.7"/>
<line x1="643" y1="129" x2="643" y2="322.5" stroke="#DDF4FE" stroke-width="0.9" opacity="0.7"/>
<line x1="664.3" y1="157.9" x2="664.3" y2="322.5" stroke="#9CD1EA" stroke-width="0.9" opacity="0.7"/>
<line x1="686.6" y1="157.9" x2="686.6" y2="322.5" stroke="#9CD1EA" stroke-width="0.9" opacity="0.7"/>
<line x1="665.3" y1="158.9" x2="665.3" y2="322.5" stroke="#DDF4FE" stroke-width="0.9" opacity="0.7"/>
<line x1="686.6" y1="174.5" x2="686.6" y2="322.5" stroke="#9CD1EA" stroke-width="0.9" opacity="0.7"/>
<line x1="708.9" y1="174.5" x2="708.9" y2="322.5" stroke="#9CD1EA" stroke-width="0.9" opacity="0.7"/>
<line x1="687.6" y1="175.5" x2="687.6" y2="322.5" stroke="#DDF4FE" stroke-width="0.9" opacity="0.7"/>
<line x1="708.9" y1="167.8" x2="708.9" y2="322.5" stroke="#9CD1EA" stroke-width="0.9" opacity="0.7"/>
<line x1="731.2" y1="167.8" x2="731.2" y2="322.5" stroke="#9CD1EA" stroke-width="0.9" opacity="0.7"/>
<line x1="709.9" y1="168.8" x2="709.9" y2="322.5" stroke="#DDF4FE" stroke-width="0.9" opacity="0.7"/>
<line x1="731.2" y1="174.5" x2="731.2" y2="322.5" stroke="#9CD1EA" stroke-width="0.9" opacity="0.7"/>
<line x1="753.9" y1="174.5" x2="753.9" y2="322.5" stroke="#9CD1EA" stroke-width="0.9" opacity="0.7"/>
<line x1="732.2" y1="175.5" x2="732.2" y2="322.5" stroke="#DDF4FE" stroke-width="0.9" opacity="0.7"/>
<line x1="389" y1="247.1" x2="721.2" y2="247.1" stroke="#F5F09A" stroke-width="2.2" opacity="0.44"/>
<rect x="397.7" y="7.8" width="21.3" height="255.7" fill="#FBEF92" />
<rect x="397.7" y="263.5" width="21.3" height="59" fill="#FBF7CC" />
<line x1="419" y1="263.5" x2="419" y2="322.5" stroke="#ffffff" stroke-width="1" stroke-dasharray="14 2" opacity="0.5"/>
<line x1="388.5" y1="263.5" x2="397.2" y2="263.5" stroke="#D84A72" stroke-width="1.3" />
<line x1="398.2" y1="263.5" x2="418.5" y2="263.5" stroke="#D84A72" stroke-width="1.3" />
<line x1="419.5" y1="190" x2="440.8" y2="190" stroke="#D84A72" stroke-width="1.3" />
<line x1="441.8" y1="214.2" x2="463.1" y2="214.2" stroke="#D84A72" stroke-width="1.3" />
<line x1="464.1" y1="33" x2="485.4" y2="33" stroke="#D84A72" stroke-width="1.3" />
<line x1="486.4" y1="157.9" x2="507.7" y2="157.9" stroke="#D84A72" stroke-width="1.3" />
<line x1="508.7" y1="125.7" x2="530" y2="125.7" stroke="#D84A72" stroke-width="1.3" />
<line x1="531" y1="120.8" x2="552.3" y2="120.8" stroke="#D84A72" stroke-width="1.3" />
<line x1="553.3" y1="164.9" x2="574.6" y2="164.9" stroke="#D84A72" stroke-width="1.3" />
<line x1="575.6" y1="96.4" x2="596.9" y2="96.4" stroke="#D84A72" stroke-width="1.3" />
<line x1="597.9" y1="116.1" x2="619.2" y2="116.1" stroke="#D84A72" stroke-width="1.3" />
<line x1="620.2" y1="160.5" x2="641.5" y2="160.5" stroke="#D84A72" stroke-width="1.3" />
<line x1="642.5" y1="128" x2="663.8" y2="128" stroke="#D84A72" stroke-width="1.3" />
<line x1="664.8" y1="157.9" x2="686.1" y2="157.9" stroke="#D84A72" stroke-width="1.3" />
<line x1="687.1" y1="174.5" x2="708.4" y2="174.5" stroke="#D84A72" stroke-width="1.3" />
<line x1="709.4" y1="167.8" x2="730.7" y2="167.8" stroke="#D84A72" stroke-width="1.3" />
<line x1="731.7" y1="174.5" x2="753.4" y2="174.5" stroke="#D84A72" stroke-width="1.3" />
<polyline points="408.6,263.5 431.2,190 453.5,214.2 475.6,33 497.7,157.9 520.3,125.7 542.3,120.8 564.4,164.9 586.9,96.4 609,116.1 631.3,160.5 653.6,128 676,157.9 698.3,174.5 720.6,167.8 742.7,174.5" fill="none" stroke="#D84A72" stroke-width="1.05" stroke-linejoin="round"/>
<rect x="384.2" y="260.9" width="5.2" height="5.2" rx="0.8" fill="#ffffff" stroke="#D84A72" stroke-width="1.1"/>
<rect x="406" y="260.9" width="5.2" height="5.2" rx="0.8" fill="#ffffff" stroke="#D84A72" stroke-width="1.1"/>
<rect x="428.6" y="187.4" width="5.2" height="5.2" rx="0.8" fill="#ffffff" stroke="#D84A72" stroke-width="1.1"/>
<rect x="450.9" y="211.6" width="5.2" height="5.2" rx="0.8" fill="#ffffff" stroke="#D84A72" stroke-width="1.1"/>
<rect x="473" y="30.4" width="5.2" height="5.2" rx="0.8" fill="#ffffff" stroke="#D84A72" stroke-width="1.1"/>
<rect x="495.1" y="155.3" width="5.2" height="5.2" rx="0.8" fill="#ffffff" stroke="#D84A72" stroke-width="1.1"/>
<rect x="517.7" y="123.1" width="5.2" height="5.2" rx="0.8" fill="#ffffff" stroke="#D84A72" stroke-width="1.1"/>
<rect x="539.7" y="118.2" width="5.2" height="5.2" rx="0.8" fill="#ffffff" stroke="#D84A72" stroke-width="1.1"/>
<rect x="561.8" y="162.3" width="5.2" height="5.2" rx="0.8" fill="#ffffff" stroke="#D84A72" stroke-width="1.1"/>
<rect x="584.3" y="93.8" width="5.2" height="5.2" rx="0.8" fill="#ffffff" stroke="#D84A72" stroke-width="1.1"/>
<rect x="606.4" y="113.5" width="5.2" height="5.2" rx="0.8" fill="#ffffff" stroke="#D84A72" stroke-width="1.1"/>
<rect x="628.7" y="157.9" width="5.2" height="5.2" rx="0.8" fill="#ffffff" stroke="#D84A72" stroke-width="1.1"/>
<rect x="651" y="125.4" width="5.2" height="5.2" rx="0.8" fill="#ffffff" stroke="#D84A72" stroke-width="1.1"/>
<rect x="673.4" y="155.3" width="5.2" height="5.2" rx="0.8" fill="#ffffff" stroke="#D84A72" stroke-width="1.1"/>
<rect x="695.7" y="171.9" width="5.2" height="5.2" rx="0.8" fill="#ffffff" stroke="#D84A72" stroke-width="1.1"/>
<rect x="718" y="165.2" width="5.2" height="5.2" rx="0.8" fill="#ffffff" stroke="#D84A72" stroke-width="1.1"/>
<rect x="740.1" y="171.9" width="5.2" height="5.2" rx="0.8" fill="#F7A8C0" stroke="#D84A72" stroke-width="1.1"/>
<text transform="translate(412.2 53.5) rotate(-90)" font-size="11.6" fill="#6A6742" stroke="#6A6742" stroke-width="0.3" textLength="62.5" lengthAdjust="spacingAndGlyphs">ОВУЛЯЦИЯ</text>
<rect x="389" y="322.5" width="364.9" height="25.5" fill="#FCFCFC" />
<rect x="389" y="348" width="364.9" height="33.7" fill="#FAFAFA" />
<line x1="397.7" y1="348" x2="397.7" y2="381.7" stroke="#ffffff" stroke-width="1.2" opacity="0.6"/>
<line x1="419" y1="348" x2="419" y2="381.7" stroke="#ffffff" stroke-width="1.2" opacity="0.6"/>
<line x1="441.3" y1="348" x2="441.3" y2="381.7" stroke="#ffffff" stroke-width="1.2" opacity="0.6"/>
<line x1="463.6" y1="348" x2="463.6" y2="381.7" stroke="#ffffff" stroke-width="1.2" opacity="0.6"/>
<line x1="485.9" y1="348" x2="485.9" y2="381.7" stroke="#ffffff" stroke-width="1.2" opacity="0.6"/>
<line x1="508.2" y1="348" x2="508.2" y2="381.7" stroke="#ffffff" stroke-width="1.2" opacity="0.6"/>
<line x1="530.5" y1="348" x2="530.5" y2="381.7" stroke="#ffffff" stroke-width="1.2" opacity="0.6"/>
<line x1="552.8" y1="348" x2="552.8" y2="381.7" stroke="#ffffff" stroke-width="1.2" opacity="0.6"/>
<line x1="575.1" y1="348" x2="575.1" y2="381.7" stroke="#ffffff" stroke-width="1.2" opacity="0.6"/>
<line x1="597.4" y1="348" x2="597.4" y2="381.7" stroke="#ffffff" stroke-width="1.2" opacity="0.6"/>
<line x1="619.7" y1="348" x2="619.7" y2="381.7" stroke="#ffffff" stroke-width="1.2" opacity="0.6"/>
<line x1="642" y1="348" x2="642" y2="381.7" stroke="#ffffff" stroke-width="1.2" opacity="0.6"/>
<line x1="664.3" y1="348" x2="664.3" y2="381.7" stroke="#ffffff" stroke-width="1.2" opacity="0.6"/>
<line x1="686.6" y1="348" x2="686.6" y2="381.7" stroke="#ffffff" stroke-width="1.2" opacity="0.6"/>
<line x1="708.9" y1="348" x2="708.9" y2="381.7" stroke="#ffffff" stroke-width="1.2" opacity="0.6"/>
<line x1="731.2" y1="348" x2="731.2" y2="381.7" stroke="#ffffff" stroke-width="1.2" opacity="0.6"/>
<line x1="389" y1="349" x2="753.9" y2="349" stroke="#ffffff" stroke-width="1.4" opacity="0.6"/>
<line x1="389" y1="372.5" x2="753.9" y2="372.5" stroke="#ffffff" stroke-width="1.4" opacity="0.6"/>
<rect x="731.6" y="325" width="21.2" height="23" fill="#93DAF4" />
<text transform="translate(386.5 341.26) scale(0.9 1)" font-size="12.4" fill="#646464" text-anchor="middle" stroke="#646464" stroke-width="0.15">15</text>
<text transform="translate(408.3 341.26) scale(0.9 1)" font-size="12.4" fill="#646464" text-anchor="middle" stroke="#646464" stroke-width="0.15">16</text>
<text transform="translate(430.15 341.26) scale(0.9 1)" font-size="12.4" fill="#646464" text-anchor="middle" stroke="#646464" stroke-width="0.15">17</text>
<text transform="translate(452.45 341.26) scale(0.9 1)" font-size="12.4" fill="#646464" text-anchor="middle" stroke="#646464" stroke-width="0.15">18</text>
<text transform="translate(474.75 341.26) scale(0.9 1)" font-size="12.4" fill="#646464" text-anchor="middle" stroke="#646464" stroke-width="0.15">19</text>
<text transform="translate(497.05 341.26) scale(0.9 1)" font-size="12.4" fill="#646464" text-anchor="middle" stroke="#646464" stroke-width="0.15">20</text>
<text transform="translate(519.35 341.26) scale(0.9 1)" font-size="12.4" fill="#646464" text-anchor="middle" stroke="#646464" stroke-width="0.15">21</text>
<text transform="translate(541.65 341.26) scale(0.9 1)" font-size="12.4" fill="#646464" text-anchor="middle" stroke="#646464" stroke-width="0.15">22</text>
<text transform="translate(563.95 341.26) scale(0.9 1)" font-size="12.4" fill="#646464" text-anchor="middle" stroke="#646464" stroke-width="0.15">23</text>
<text transform="translate(586.25 341.26) scale(0.9 1)" font-size="12.4" fill="#646464" text-anchor="middle" stroke="#646464" stroke-width="0.15">24</text>
<text transform="translate(608.55 341.26) scale(0.9 1)" font-size="12.4" fill="#646464" text-anchor="middle" stroke="#646464" stroke-width="0.15">25</text>
<text transform="translate(630.85 341.26) scale(0.9 1)" font-size="12.4" fill="#646464" text-anchor="middle" stroke="#646464" stroke-width="0.15">26</text>
<text transform="translate(653.15 341.26) scale(0.9 1)" font-size="12.4" fill="#646464" text-anchor="middle" stroke="#646464" stroke-width="0.15">27</text>
<text transform="translate(675.45 341.26) scale(0.9 1)" font-size="12.4" fill="#646464" text-anchor="middle" stroke="#646464" stroke-width="0.15">28</text>
<text transform="translate(697.75 341.26) scale(0.9 1)" font-size="12.4" fill="#646464" text-anchor="middle" stroke="#646464" stroke-width="0.15">29</text>
<text transform="translate(720.05 341.26) scale(0.9 1)" font-size="12.4" fill="#646464" text-anchor="middle" stroke="#646464" stroke-width="0.15">30</text>
<text transform="translate(742.55 341.26) scale(0.9 1)" font-size="12.4" fill="#3F5E6C" text-anchor="middle" stroke="#646464" stroke-width="0.15">31</text>
<ellipse cx="388.2" cy="360.9" rx="6" ry="8.4" fill="#FAD448"/>
<circle cx="408.5" cy="361.2" r="7.6" fill="#FFFFFB" stroke="#F8DF82" stroke-width="1.6"/>
<path transform="translate(427 355.8) scale(0.74 0.8)" fill="#F5444B" d="M5 0 C6.6 2.4 10 5.4 10 9 C10 11.8 7.8 14 5 14 C2.2 14 0 11.8 0 9 C0 5.4 3.4 2.4 5 0 Z"/>
<path transform="translate(739.1 355.8) scale(0.74 0.8)" fill="#F5444B" d="M5 0 C6.6 2.4 10 5.4 10 9 C10 11.8 7.8 14 5 14 C2.2 14 0 11.8 0 9 C0 5.4 3.4 2.4 5 0 Z"/>
<rect x="539.5" y="376.4" width="4.6" height="15.6" fill="#8CB71F" rx="2.3"/>
<rect x="584" y="376.4" width="4.6" height="15.6" fill="#8CB71F" rx="2.3"/>
<rect x="606.2" y="376.4" width="4.6" height="15.6" fill="#8CB71F" rx="2.3"/>
<rect x="650.9" y="376.4" width="4.6" height="15.6" fill="#8CB71F" rx="2.3"/>
<rect x="673" y="376.4" width="4.6" height="15.6" fill="#8CB71F" rx="2.3"/>
</g>
<g>
<rect x="7.8" y="389" width="373.6" height="7.9" fill="#FEFEFD" />
<rect x="7.8" y="389" width="24.7" height="7.9" fill="#FEFDF0" />
<clipPath id="k1"><rect x="7.8" y="389" width="40" height="8"/></clipPath>
<circle cx="22" cy="385.3" r="7.4" fill="#FAD448" clip-path="url(#k1)"/>
</g>
<clipPath id="c3"><rect x="7.8" y="389" width="373.6" height="373.7"/></clipPath>
<g clip-path="url(#c3)">
<rect x="7.8" y="396.9" width="373.6" height="299.9" fill="#93DAF4" />
<rect x="325.52" y="420.3" width="20.93" height="276.5" fill="#FBB0C5" />
<line x1="7.8" y1="420.3" x2="381.4" y2="420.3" stroke="#ffffff" stroke-width="1.1" stroke-dasharray="1.31 1.99" opacity="0.72"/>
<line x1="7.8" y1="443.25" x2="381.4" y2="443.25" stroke="#ffffff" stroke-width="1.1" stroke-dasharray="1.31 1.99" opacity="0.72"/>
<line x1="7.8" y1="466.2" x2="381.4" y2="466.2" stroke="#ffffff" stroke-width="1.1" stroke-dasharray="1.31 1.99" opacity="0.72"/>
<line x1="7.8" y1="489.15" x2="381.4" y2="489.15" stroke="#ffffff" stroke-width="1.1" stroke-dasharray="1.31 1.99" opacity="0.72"/>
<line x1="7.8" y1="512.1" x2="381.4" y2="512.1" stroke="#ffffff" stroke-width="1.1" stroke-dasharray="1.31 1.99" opacity="0.72"/>
<line x1="7.8" y1="535.05" x2="381.4" y2="535.05" stroke="#ffffff" stroke-width="1.1" stroke-dasharray="1.31 1.99" opacity="0.72"/>
<line x1="7.8" y1="558" x2="381.4" y2="558" stroke="#ffffff" stroke-width="1.1" stroke-dasharray="1.31 1.99" opacity="0.72"/>
<line x1="7.8" y1="580.95" x2="381.4" y2="580.95" stroke="#ffffff" stroke-width="1.1" stroke-dasharray="1.31 1.99" opacity="0.72"/>
<line x1="7.8" y1="603.9" x2="381.4" y2="603.9" stroke="#ffffff" stroke-width="1.1" stroke-dasharray="1.31 1.99" opacity="0.72"/>
<line x1="7.8" y1="626.85" x2="381.4" y2="626.85" stroke="#ffffff" stroke-width="1.1" stroke-dasharray="1.31 1.99" opacity="0.72"/>
<line x1="7.8" y1="649.8" x2="381.4" y2="649.8" stroke="#ffffff" stroke-width="1.1" stroke-dasharray="1.31 1.99" opacity="0.72"/>
<line x1="7.8" y1="672.75" x2="381.4" y2="672.75" stroke="#ffffff" stroke-width="1.1" stroke-dasharray="1.31 1.99" opacity="0.72"/>
<line x1="7.8" y1="695.7" x2="381.4" y2="695.7" stroke="#ffffff" stroke-width="1.1" stroke-dasharray="1.31 1.99" opacity="0.72"/>
<rect x="325.52" y="421.1" width="20.93" height="275.7" fill="#FBB0C5" />
<rect x="12.5" y="396.9" width="20" height="225" fill="#FBEF92" />
<rect x="12.5" y="621.9" width="20" height="74.9" fill="#FBF7CC" />
<rect x="7.8" y="634.3" width="4.4" height="62.5" fill="#CBECFD" />
<rect x="32.5" y="529.9" width="20.93" height="166.9" fill="#CBECFD" />
<rect x="53.43" y="535.3" width="20.93" height="161.5" fill="#CBECFD" />
<rect x="74.36" y="506.8" width="20.93" height="190" fill="#CBECFD" />
<rect x="95.29" y="521" width="20.93" height="175.8" fill="#CBECFD" />
<rect x="116.22" y="495.8" width="20.93" height="201" fill="#CBECFD" />
<rect x="137.15" y="502.1" width="20.93" height="194.7" fill="#CBECFD" />
<rect x="158.08" y="550.6" width="20.93" height="146.2" fill="#CBECFD" />
<rect x="179.01" y="508.8" width="20.93" height="188" fill="#CBECFD" />
<rect x="199.94" y="525.5" width="20.93" height="171.3" fill="#CBECFD" />
<rect x="220.87" y="488.6" width="20.93" height="208.2" fill="#CBECFD" />
<rect x="241.8" y="514.3" width="20.93" height="182.5" fill="#CBECFD" />
<rect x="262.73" y="521" width="20.93" height="175.8" fill="#CBECFD" />
<rect x="283.66" y="550.6" width="20.93" height="146.2" fill="#CBECFD" />
<rect x="304.59" y="642.7" width="20.93" height="54.1" fill="#CBECFD" />
<line x1="7.8" y1="634.3" x2="7.8" y2="696.8" stroke="#9CD1EA" stroke-width="0.9" opacity="0.7"/>
<line x1="12.2" y1="634.3" x2="12.2" y2="696.8" stroke="#9CD1EA" stroke-width="0.9" opacity="0.7"/>
<line x1="8.8" y1="635.3" x2="8.8" y2="696.8" stroke="#DDF4FE" stroke-width="0.9" opacity="0.7"/>
<line x1="32.5" y1="529.9" x2="32.5" y2="696.8" stroke="#9CD1EA" stroke-width="0.9" opacity="0.7"/>
<line x1="53.43" y1="529.9" x2="53.43" y2="696.8" stroke="#9CD1EA" stroke-width="0.9" opacity="0.7"/>
<line x1="33.5" y1="530.9" x2="33.5" y2="696.8" stroke="#DDF4FE" stroke-width="0.9" opacity="0.7"/>
<line x1="53.43" y1="535.3" x2="53.43" y2="696.8" stroke="#9CD1EA" stroke-width="0.9" opacity="0.7"/>
<line x1="74.36" y1="535.3" x2="74.36" y2="696.8" stroke="#9CD1EA" stroke-width="0.9" opacity="0.7"/>
<line x1="54.43" y1="536.3" x2="54.43" y2="696.8" stroke="#DDF4FE" stroke-width="0.9" opacity="0.7"/>
<line x1="74.36" y1="506.8" x2="74.36" y2="696.8" stroke="#9CD1EA" stroke-width="0.9" opacity="0.7"/>
<line x1="95.29" y1="506.8" x2="95.29" y2="696.8" stroke="#9CD1EA" stroke-width="0.9" opacity="0.7"/>
<line x1="75.36" y1="507.8" x2="75.36" y2="696.8" stroke="#DDF4FE" stroke-width="0.9" opacity="0.7"/>
<line x1="95.29" y1="521" x2="95.29" y2="696.8" stroke="#9CD1EA" stroke-width="0.9" opacity="0.7"/>
<line x1="116.22" y1="521" x2="116.22" y2="696.8" stroke="#9CD1EA" stroke-width="0.9" opacity="0.7"/>
<line x1="96.29" y1="522" x2="96.29" y2="696.8" stroke="#DDF4FE" stroke-width="0.9" opacity="0.7"/>
<line x1="116.22" y1="495.8" x2="116.22" y2="696.8" stroke="#9CD1EA" stroke-width="0.9" opacity="0.7"/>
<line x1="137.15" y1="495.8" x2="137.15" y2="696.8" stroke="#9CD1EA" stroke-width="0.9" opacity="0.7"/>
<line x1="117.22" y1="496.8" x2="117.22" y2="696.8" stroke="#DDF4FE" stroke-width="0.9" opacity="0.7"/>
<line x1="137.15" y1="502.1" x2="137.15" y2="696.8" stroke="#9CD1EA" stroke-width="0.9" opacity="0.7"/>
<line x1="158.08" y1="502.1" x2="158.08" y2="696.8" stroke="#9CD1EA" stroke-width="0.9" opacity="0.7"/>
<line x1="138.15" y1="503.1" x2="138.15" y2="696.8" stroke="#DDF4FE" stroke-width="0.9" opacity="0.7"/>
<line x1="158.08" y1="550.6" x2="158.08" y2="696.8" stroke="#9CD1EA" stroke-width="0.9" opacity="0.7"/>
<line x1="179.01" y1="550.6" x2="179.01" y2="696.8" stroke="#9CD1EA" stroke-width="0.9" opacity="0.7"/>
<line x1="159.08" y1="551.6" x2="159.08" y2="696.8" stroke="#DDF4FE" stroke-width="0.9" opacity="0.7"/>
<line x1="179.01" y1="508.8" x2="179.01" y2="696.8" stroke="#9CD1EA" stroke-width="0.9" opacity="0.7"/>
<line x1="199.94" y1="508.8" x2="199.94" y2="696.8" stroke="#9CD1EA" stroke-width="0.9" opacity="0.7"/>
<line x1="180.01" y1="509.8" x2="180.01" y2="696.8" stroke="#DDF4FE" stroke-width="0.9" opacity="0.7"/>
<line x1="199.94" y1="525.5" x2="199.94" y2="696.8" stroke="#9CD1EA" stroke-width="0.9" opacity="0.7"/>
<line x1="220.87" y1="525.5" x2="220.87" y2="696.8" stroke="#9CD1EA" stroke-width="0.9" opacity="0.7"/>
<line x1="200.94" y1="526.5" x2="200.94" y2="696.8" stroke="#DDF4FE" stroke-width="0.9" opacity="0.7"/>
<line x1="220.87" y1="488.6" x2="220.87" y2="696.8" stroke="#9CD1EA" stroke-width="0.9" opacity="0.7"/>
<line x1="241.8" y1="488.6" x2="241.8" y2="696.8" stroke="#9CD1EA" stroke-width="0.9" opacity="0.7"/>
<line x1="221.87" y1="489.6" x2="221.87" y2="696.8" stroke="#DDF4FE" stroke-width="0.9" opacity="0.7"/>
<line x1="241.8" y1="514.3" x2="241.8" y2="696.8" stroke="#9CD1EA" stroke-width="0.9" opacity="0.7"/>
<line x1="262.73" y1="514.3" x2="262.73" y2="696.8" stroke="#9CD1EA" stroke-width="0.9" opacity="0.7"/>
<line x1="242.8" y1="515.3" x2="242.8" y2="696.8" stroke="#DDF4FE" stroke-width="0.9" opacity="0.7"/>
<line x1="262.73" y1="521" x2="262.73" y2="696.8" stroke="#9CD1EA" stroke-width="0.9" opacity="0.7"/>
<line x1="283.66" y1="521" x2="283.66" y2="696.8" stroke="#9CD1EA" stroke-width="0.9" opacity="0.7"/>
<line x1="263.73" y1="522" x2="263.73" y2="696.8" stroke="#DDF4FE" stroke-width="0.9" opacity="0.7"/>
<line x1="283.66" y1="550.6" x2="283.66" y2="696.8" stroke="#9CD1EA" stroke-width="0.9" opacity="0.7"/>
<line x1="304.59" y1="550.6" x2="304.59" y2="696.8" stroke="#9CD1EA" stroke-width="0.9" opacity="0.7"/>
<line x1="284.66" y1="551.6" x2="284.66" y2="696.8" stroke="#DDF4FE" stroke-width="0.9" opacity="0.7"/>
<line x1="304.59" y1="642.7" x2="304.59" y2="696.8" stroke="#9CD1EA" stroke-width="0.9" opacity="0.7"/>
<line x1="325.52" y1="642.7" x2="325.52" y2="696.8" stroke="#9CD1EA" stroke-width="0.9" opacity="0.7"/>
<line x1="305.59" y1="643.7" x2="305.59" y2="696.8" stroke="#DDF4FE" stroke-width="0.9" opacity="0.7"/>
<line x1="7.8" y1="591.3" x2="357.5" y2="591.3" stroke="#F5F09A" stroke-width="2.2" opacity="0.44"/>
<rect x="12.5" y="396.9" width="20" height="225" fill="#FBEF92" />
<rect x="12.5" y="621.9" width="20" height="74.9" fill="#FBF7CC" />
<line x1="32.5" y1="621.9" x2="32.5" y2="696.8" stroke="#ffffff" stroke-width="1" stroke-dasharray="14 2" opacity="0.5"/>
<rect x="32.5" y="396.9" width="20.93" height="23.4" fill="#C9EDFB" />
<line x1="32.5" y1="396.9" x2="32.5" y2="420.3" stroke="#B2DFF3" stroke-width="0.9" />
<rect x="53.43" y="396.9" width="20.93" height="23.4" fill="#C9EDFB" />
<line x1="53.43" y1="396.9" x2="53.43" y2="420.3" stroke="#B2DFF3" stroke-width="0.9" />
<rect x="74.36" y="396.9" width="20.93" height="23.4" fill="#C9EDFB" />
<line x1="74.36" y1="396.9" x2="74.36" y2="420.3" stroke="#B2DFF3" stroke-width="0.9" />
<rect x="95.29" y="396.9" width="20.93" height="23.4" fill="#C9EDFB" />
<line x1="95.29" y1="396.9" x2="95.29" y2="420.3" stroke="#B2DFF3" stroke-width="0.9" />
<rect x="116.22" y="396.9" width="20.93" height="23.4" fill="#C9EDFB" />
<line x1="116.22" y1="396.9" x2="116.22" y2="420.3" stroke="#B2DFF3" stroke-width="0.9" />
<rect x="137.15" y="396.9" width="20.93" height="23.4" fill="#C9EDFB" />
<line x1="137.15" y1="396.9" x2="137.15" y2="420.3" stroke="#B2DFF3" stroke-width="0.9" />
<rect x="158.08" y="396.9" width="20.93" height="23.4" fill="#C9EDFB" />
<line x1="158.08" y1="396.9" x2="158.08" y2="420.3" stroke="#B2DFF3" stroke-width="0.9" />
<rect x="179.01" y="396.9" width="20.93" height="23.4" fill="#C9EDFB" />
<line x1="179.01" y1="396.9" x2="179.01" y2="420.3" stroke="#B2DFF3" stroke-width="0.9" />
<rect x="199.94" y="396.9" width="20.93" height="23.4" fill="#C9EDFB" />
<line x1="199.94" y1="396.9" x2="199.94" y2="420.3" stroke="#B2DFF3" stroke-width="0.9" />
<rect x="220.87" y="396.9" width="20.93" height="23.4" fill="#C9EDFB" />
<line x1="220.87" y1="396.9" x2="220.87" y2="420.3" stroke="#B2DFF3" stroke-width="0.9" />
<rect x="241.8" y="396.9" width="20.93" height="23.4" fill="#C9EDFB" />
<line x1="241.8" y1="396.9" x2="241.8" y2="420.3" stroke="#B2DFF3" stroke-width="0.9" />
<rect x="262.73" y="396.9" width="20.93" height="23.4" fill="#C9EDFB" />
<line x1="262.73" y1="396.9" x2="262.73" y2="420.3" stroke="#B2DFF3" stroke-width="0.9" />
<rect x="283.66" y="396.9" width="20.93" height="23.4" fill="#C9EDFB" />
<line x1="283.66" y1="396.9" x2="283.66" y2="420.3" stroke="#B2DFF3" stroke-width="0.9" />
<rect x="304.59" y="396.9" width="20.93" height="23.4" fill="#C9EDFB" />
<line x1="304.59" y1="396.9" x2="304.59" y2="420.3" stroke="#B2DFF3" stroke-width="0.9" />
<rect x="325.52" y="396.9" width="20.93" height="23.4" fill="#FCD5E0" />
<line x1="325.52" y1="396.9" x2="325.52" y2="420.3" stroke="#B2DFF3" stroke-width="0.9" />
<rect x="346.45" y="396.9" width="20.93" height="23.4" fill="#C9EDFB" />
<line x1="346.45" y1="396.9" x2="346.45" y2="420.3" stroke="#B2DFF3" stroke-width="0.9" />
<rect x="367.38" y="396.9" width="20.93" height="23.4" fill="#C9EDFB" />
<line x1="367.38" y1="396.9" x2="367.38" y2="420.3" stroke="#B2DFF3" stroke-width="0.9" />
<line x1="32.5" y1="397.3" x2="381.4" y2="397.3" stroke="#B2DFF3" stroke-width="0.8" />
<text transform="translate(42.97 413.67) scale(0.9 1)" font-size="11.3" fill="#4F6975" text-anchor="middle" stroke="#4F6975" stroke-width="0.2">01</text>
<text transform="translate(63.89 413.67) scale(0.9 1)" font-size="11.3" fill="#4F6975" text-anchor="middle" stroke="#4F6975" stroke-width="0.2">02</text>
<text transform="translate(84.82 413.67) scale(0.9 1)" font-size="11.3" fill="#4F6975" text-anchor="middle" stroke="#4F6975" stroke-width="0.2">03</text>
<text transform="translate(105.75 413.67) scale(0.9 1)" font-size="11.3" fill="#4F6975" text-anchor="middle" stroke="#4F6975" stroke-width="0.2">04</text>
<text transform="translate(126.69 413.67) scale(0.9 1)" font-size="11.3" fill="#4F6975" text-anchor="middle" stroke="#4F6975" stroke-width="0.2">05</text>
<text transform="translate(147.62 413.67) scale(0.9 1)" font-size="11.3" fill="#4F6975" text-anchor="middle" stroke="#4F6975" stroke-width="0.2">06</text>
<text transform="translate(168.54 413.67) scale(0.9 1)" font-size="11.3" fill="#4F6975" text-anchor="middle" stroke="#4F6975" stroke-width="0.2">07</text>
<text transform="translate(189.47 413.67) scale(0.9 1)" font-size="11.3" fill="#4F6975" text-anchor="middle" stroke="#4F6975" stroke-width="0.2">08</text>
<text transform="translate(210.41 413.67) scale(0.9 1)" font-size="11.3" fill="#4F6975" text-anchor="middle" stroke="#4F6975" stroke-width="0.2">09</text>
<text transform="translate(231.34 413.67) scale(0.9 1)" font-size="11.3" fill="#4F6975" text-anchor="middle" stroke="#4F6975" stroke-width="0.2">10</text>
<text transform="translate(252.27 413.67) scale(0.9 1)" font-size="11.3" fill="#4F6975" text-anchor="middle" stroke="#4F6975" stroke-width="0.2">11</text>
<text transform="translate(273.19 413.67) scale(0.9 1)" font-size="11.3" fill="#4F6975" text-anchor="middle" stroke="#4F6975" stroke-width="0.2">12</text>
<text transform="translate(294.12 413.67) scale(0.9 1)" font-size="11.3" fill="#4F6975" text-anchor="middle" stroke="#4F6975" stroke-width="0.2">13</text>
<text transform="translate(315.05 413.67) scale(0.9 1)" font-size="11.3" fill="#4F6975" text-anchor="middle" stroke="#4F6975" stroke-width="0.2">14</text>
<text transform="translate(335.99 413.67) scale(0.9 1)" font-size="11.3" fill="#4F6975" text-anchor="middle" stroke="#4F6975" stroke-width="0.2">15</text>
<text transform="translate(356.91 413.67) scale(0.9 1)" font-size="11.3" fill="#4F6975" text-anchor="middle" stroke="#4F6975" stroke-width="0.2">16</text>
<text transform="translate(377.85 413.67) scale(0.9 1)" font-size="11.3" fill="#4F6975" text-anchor="middle" stroke="#4F6975" stroke-width="0.2">17</text>
<line x1="32.5" y1="420.3" x2="381.4" y2="420.3" stroke="#ffffff" stroke-width="1.1" stroke-dasharray="1.31 1.99" opacity="0.72"/>
<line x1="7.5" y1="634.3" x2="12" y2="634.3" stroke="#D84A72" stroke-width="1.3" />
<line x1="13" y1="621.9" x2="32" y2="621.9" stroke="#D84A72" stroke-width="1.3" />
<line x1="33" y1="529.9" x2="52.93" y2="529.9" stroke="#D84A72" stroke-width="1.3" />
<line x1="53.93" y1="535.3" x2="73.86" y2="535.3" stroke="#D84A72" stroke-width="1.3" />
<line x1="74.86" y1="506.8" x2="94.79" y2="506.8" stroke="#D84A72" stroke-width="1.3" />
<line x1="95.79" y1="521" x2="115.72" y2="521" stroke="#D84A72" stroke-width="1.3" />
<line x1="116.72" y1="495.8" x2="136.65" y2="495.8" stroke="#D84A72" stroke-width="1.3" />
<line x1="137.65" y1="502.1" x2="157.58" y2="502.1" stroke="#D84A72" stroke-width="1.3" />
<line x1="158.58" y1="550.6" x2="178.51" y2="550.6" stroke="#D84A72" stroke-width="1.3" />
<line x1="179.51" y1="508.8" x2="199.44" y2="508.8" stroke="#D84A72" stroke-width="1.3" />
<line x1="200.44" y1="525.5" x2="220.37" y2="525.5" stroke="#D84A72" stroke-width="1.3" />
<line x1="221.37" y1="488.6" x2="241.3" y2="488.6" stroke="#D84A72" stroke-width="1.3" />
<line x1="242.3" y1="514.3" x2="262.23" y2="514.3" stroke="#D84A72" stroke-width="1.3" />
<line x1="263.23" y1="521" x2="283.16" y2="521" stroke="#D84A72" stroke-width="1.3" />
<line x1="284.16" y1="550.6" x2="304.09" y2="550.6" stroke="#D84A72" stroke-width="1.3" />
<line x1="305.09" y1="642.7" x2="325.02" y2="642.7" stroke="#D84A72" stroke-width="1.3" />
<polyline points="7.8,630.8 22.9,621.9 43.6,529.9 64.7,535.3 85.7,506.8 106.2,521 127.3,495.8 148.1,502.1 168.8,550.6 190.1,508.8 210.8,525.5 232.1,488.6 252.6,514.3 273.4,521 294.4,550.6 315.2,642.7" fill="none" stroke="#D84A72" stroke-width="1.05" stroke-linejoin="round"/>
<rect x="20.45" y="619.45" width="4.9" height="4.9" rx="0.8" fill="#ffffff" stroke="#D84A72" stroke-width="1.1"/>
<rect x="41.15" y="527.45" width="4.9" height="4.9" rx="0.8" fill="#ffffff" stroke="#D84A72" stroke-width="1.1"/>
<rect x="62.25" y="532.85" width="4.9" height="4.9" rx="0.8" fill="#ffffff" stroke="#D84A72" stroke-width="1.1"/>
<rect x="83.25" y="504.35" width="4.9" height="4.9" rx="0.8" fill="#ffffff" stroke="#D84A72" stroke-width="1.1"/>
<rect x="103.75" y="518.55" width="4.9" height="4.9" rx="0.8" fill="#ffffff" stroke="#D84A72" stroke-width="1.1"/>
<rect x="124.85" y="493.35" width="4.9" height="4.9" rx="0.8" fill="#ffffff" stroke="#D84A72" stroke-width="1.1"/>
<rect x="145.65" y="499.65" width="4.9" height="4.9" rx="0.8" fill="#ffffff" stroke="#D84A72" stroke-width="1.1"/>
<rect x="166.35" y="548.15" width="4.9" height="4.9" rx="0.8" fill="#ffffff" stroke="#D84A72" stroke-width="1.1"/>
<rect x="187.65" y="506.35" width="4.9" height="4.9" rx="0.8" fill="#ffffff" stroke="#D84A72" stroke-width="1.1"/>
<rect x="208.35" y="523.05" width="4.9" height="4.9" rx="0.8" fill="#ffffff" stroke="#D84A72" stroke-width="1.1"/>
<rect x="229.65" y="486.15" width="4.9" height="4.9" rx="0.8" fill="#ffffff" stroke="#D84A72" stroke-width="1.1"/>
<rect x="250.15" y="511.85" width="4.9" height="4.9" rx="0.8" fill="#ffffff" stroke="#D84A72" stroke-width="1.1"/>
<rect x="270.95" y="518.55" width="4.9" height="4.9" rx="0.8" fill="#ffffff" stroke="#D84A72" stroke-width="1.1"/>
<rect x="291.95" y="548.15" width="4.9" height="4.9" rx="0.8" fill="#ffffff" stroke="#D84A72" stroke-width="1.1"/>
<rect x="312.75" y="640.25" width="4.9" height="4.9" rx="0.8" fill="#F7A8C0" stroke="#D84A72" stroke-width="1.1"/>
<text transform="translate(26.5 462) rotate(-90)" font-size="10.5" fill="#6A6742" stroke="#6A6742" stroke-width="0.3" textLength="57" lengthAdjust="spacingAndGlyphs">ОВУЛЯЦИЯ</text>
<rect x="7.8" y="696.8" width="373.6" height="23.8" fill="#FCFCFC" />
<rect x="7.8" y="720.6" width="373.6" height="42.1" fill="#FAFAFA" />
<line x1="12.5" y1="720.6" x2="12.5" y2="762.7" stroke="#ffffff" stroke-width="1.2" opacity="0.6"/>
<line x1="32.5" y1="720.6" x2="32.5" y2="762.7" stroke="#ffffff" stroke-width="1.2" opacity="0.6"/>
<line x1="53.43" y1="720.6" x2="53.43" y2="762.7" stroke="#ffffff" stroke-width="1.2" opacity="0.6"/>
<line x1="74.36" y1="720.6" x2="74.36" y2="762.7" stroke="#ffffff" stroke-width="1.2" opacity="0.6"/>
<line x1="95.29" y1="720.6" x2="95.29" y2="762.7" stroke="#ffffff" stroke-width="1.2" opacity="0.6"/>
<line x1="116.22" y1="720.6" x2="116.22" y2="762.7" stroke="#ffffff" stroke-width="1.2" opacity="0.6"/>
<line x1="137.15" y1="720.6" x2="137.15" y2="762.7" stroke="#ffffff" stroke-width="1.2" opacity="0.6"/>
<line x1="158.08" y1="720.6" x2="158.08" y2="762.7" stroke="#ffffff" stroke-width="1.2" opacity="0.6"/>
<line x1="179.01" y1="720.6" x2="179.01" y2="762.7" stroke="#ffffff" stroke-width="1.2" opacity="0.6"/>
<line x1="199.94" y1="720.6" x2="199.94" y2="762.7" stroke="#ffffff" stroke-width="1.2" opacity="0.6"/>
<line x1="220.87" y1="720.6" x2="220.87" y2="762.7" stroke="#ffffff" stroke-width="1.2" opacity="0.6"/>
<line x1="241.8" y1="720.6" x2="241.8" y2="762.7" stroke="#ffffff" stroke-width="1.2" opacity="0.6"/>
<line x1="262.73" y1="720.6" x2="262.73" y2="762.7" stroke="#ffffff" stroke-width="1.2" opacity="0.6"/>
<line x1="283.66" y1="720.6" x2="283.66" y2="762.7" stroke="#ffffff" stroke-width="1.2" opacity="0.6"/>
<line x1="304.59" y1="720.6" x2="304.59" y2="762.7" stroke="#ffffff" stroke-width="1.2" opacity="0.6"/>
<line x1="325.52" y1="720.6" x2="325.52" y2="762.7" stroke="#ffffff" stroke-width="1.2" opacity="0.6"/>
<line x1="346.45" y1="720.6" x2="346.45" y2="762.7" stroke="#ffffff" stroke-width="1.2" opacity="0.6"/>
<line x1="367.38" y1="720.6" x2="367.38" y2="762.7" stroke="#ffffff" stroke-width="1.2" opacity="0.6"/>
<line x1="7.8" y1="721.8" x2="381.4" y2="721.8" stroke="#ffffff" stroke-width="1.4" opacity="0.6"/>
<line x1="7.8" y1="744" x2="381.4" y2="744" stroke="#ffffff" stroke-width="1.4" opacity="0.6"/>
<rect x="305" y="699" width="20" height="22.2" fill="#93DAF4" />
<text transform="translate(22.9 714.44) scale(0.9 1)" font-size="11.5" fill="#646464" text-anchor="middle" stroke="#646464" stroke-width="0.15">14</text>
<text transform="translate(42.97 714.44) scale(0.9 1)" font-size="11.5" fill="#646464" text-anchor="middle" stroke="#646464" stroke-width="0.15">15</text>
<text transform="translate(63.89 714.44) scale(0.9 1)" font-size="11.5" fill="#646464" text-anchor="middle" stroke="#646464" stroke-width="0.15">16</text>
<text transform="translate(84.82 714.44) scale(0.9 1)" font-size="11.5" fill="#646464" text-anchor="middle" stroke="#646464" stroke-width="0.15">17</text>
<text transform="translate(105.75 714.44) scale(0.9 1)" font-size="11.5" fill="#646464" text-anchor="middle" stroke="#646464" stroke-width="0.15">18</text>
<text transform="translate(126.69 714.44) scale(0.9 1)" font-size="11.5" fill="#646464" text-anchor="middle" stroke="#646464" stroke-width="0.15">19</text>
<text transform="translate(147.62 714.44) scale(0.9 1)" font-size="11.5" fill="#646464" text-anchor="middle" stroke="#646464" stroke-width="0.15">20</text>
<text transform="translate(168.54 714.44) scale(0.9 1)" font-size="11.5" fill="#646464" text-anchor="middle" stroke="#646464" stroke-width="0.15">21</text>
<text transform="translate(189.47 714.44) scale(0.9 1)" font-size="11.5" fill="#646464" text-anchor="middle" stroke="#646464" stroke-width="0.15">22</text>
<text transform="translate(210.41 714.44) scale(0.9 1)" font-size="11.5" fill="#646464" text-anchor="middle" stroke="#646464" stroke-width="0.15">23</text>
<text transform="translate(231.34 714.44) scale(0.9 1)" font-size="11.5" fill="#646464" text-anchor="middle" stroke="#646464" stroke-width="0.15">24</text>
<text transform="translate(252.27 714.44) scale(0.9 1)" font-size="11.5" fill="#646464" text-anchor="middle" stroke="#646464" stroke-width="0.15">25</text>
<text transform="translate(273.19 714.44) scale(0.9 1)" font-size="11.5" fill="#646464" text-anchor="middle" stroke="#646464" stroke-width="0.15">26</text>
<text transform="translate(294.12 714.44) scale(0.9 1)" font-size="11.5" fill="#646464" text-anchor="middle" stroke="#646464" stroke-width="0.15">27</text>
<text transform="translate(315.05 714.44) scale(0.9 1)" font-size="11.5" fill="#3F5E6C" text-anchor="middle" stroke="#646464" stroke-width="0.15">28</text>
<text transform="translate(335.99 714.44) scale(0.9 1)" font-size="11.5" fill="#646464" text-anchor="middle" stroke="#646464" stroke-width="0.15">29</text>
<text transform="translate(356.91 714.44) scale(0.9 1)" font-size="11.5" fill="#646464" text-anchor="middle" stroke="#646464" stroke-width="0.15">30</text>
<text transform="translate(377.85 714.44) scale(0.9 1)" font-size="11.5" fill="#646464" text-anchor="middle" stroke="#646464" stroke-width="0.15">31</text>
<circle cx="1.5" cy="733.6" r="7.6" fill="#FAD448"/>
<circle cx="22.1" cy="733.6" r="7.3" fill="#FFFFFB" stroke="#F8DF82" stroke-width="1.6"/>
<path transform="translate(309.55 726.1) scale(1.06 1.06)" fill="#F5444B" d="M5 0 C6.6 2.4 10 5.4 10 9 C10 11.8 7.8 14 5 14 C2.2 14 0 11.8 0 9 C0 5.4 3.4 2.4 5 0 Z"/>
<rect x="186.78" y="747.9" width="4.2" height="14.3" fill="#8CB71F" rx="2.1"/>
<rect x="207.71" y="747.9" width="4.2" height="14.3" fill="#8CB71F" rx="2.1"/>
<rect x="228.64" y="747.9" width="4.2" height="14.3" fill="#8CB71F" rx="2.1"/>
<rect x="249.57" y="747.9" width="4.2" height="14.3" fill="#8CB71F" rx="2.1"/>
<rect x="270.49" y="747.9" width="4.2" height="14.3" fill="#8CB71F" rx="2.1"/>
</g>
<g>
<rect x="389" y="389" width="366" height="13" fill="#FDFDFB" />
<rect x="389" y="389" width="11.5" height="13" fill="#FEFDF3" />
<line x1="400.5" y1="389" x2="400.5" y2="402" stroke="#CDE9F5" stroke-width="1" />
<line x1="419.5" y1="389" x2="419.5" y2="402" stroke="#E3F1F7" stroke-width="1" />
<line x1="754.6" y1="389" x2="754.6" y2="402" stroke="#BFE6F6" stroke-width="1.2" />
<clipPath id="k2"><rect x="389" y="389" width="366" height="13"/></clipPath>
<g clip-path="url(#k2)"><circle cx="410.6" cy="388.3" r="8.4" fill="#FAD448"/>
<text x="431.8" y="394.9" font-size="10.6" fill="#70777A" textLength="29" lengthAdjust="spacingAndGlyphs">2 фаза</text>
<text x="466.7" y="394.9" font-size="12" fill="#686E71" textLength="37.5" lengthAdjust="spacingAndGlyphs">37.0 °C</text>
<text x="526.8" y="394.9" font-size="10.6" fill="#70777A" textLength="43.7" lengthAdjust="spacingAndGlyphs">Разница t°</text>
<text x="575.8" y="394.9" font-size="12" fill="#686E71" textLength="30" lengthAdjust="spacingAndGlyphs">0.4 °C</text>
</g></g>
<clipPath id="c4"><rect x="389" y="389" width="365.9" height="373.7"/></clipPath>
<g clip-path="url(#c4)">
<rect x="389" y="402" width="365.9" height="282.8" fill="#93DAF4" />
<rect x="695.72" y="423.6" width="19.73" height="261.2" fill="#FBB0C5" />
<line x1="389" y1="423.6" x2="754.9" y2="423.6" stroke="#ffffff" stroke-width="1.1" stroke-dasharray="1.24 1.88" opacity="0.72"/>
<line x1="389" y1="445.4" x2="754.9" y2="445.4" stroke="#ffffff" stroke-width="1.1" stroke-dasharray="1.24 1.88" opacity="0.72"/>
<line x1="389" y1="467.2" x2="754.9" y2="467.2" stroke="#ffffff" stroke-width="1.1" stroke-dasharray="1.24 1.88" opacity="0.72"/>
<line x1="389" y1="489" x2="754.9" y2="489" stroke="#ffffff" stroke-width="1.1" stroke-dasharray="1.24 1.88" opacity="0.72"/>
<line x1="389" y1="510.8" x2="754.9" y2="510.8" stroke="#ffffff" stroke-width="1.1" stroke-dasharray="1.24 1.88" opacity="0.72"/>
<line x1="389" y1="532.6" x2="754.9" y2="532.6" stroke="#ffffff" stroke-width="1.1" stroke-dasharray="1.24 1.88" opacity="0.72"/>
<line x1="389" y1="554.4" x2="754.9" y2="554.4" stroke="#ffffff" stroke-width="1.1" stroke-dasharray="1.24 1.88" opacity="0.72"/>
<line x1="389" y1="576.2" x2="754.9" y2="576.2" stroke="#ffffff" stroke-width="1.1" stroke-dasharray="1.24 1.88" opacity="0.72"/>
<line x1="389" y1="598" x2="754.9" y2="598" stroke="#ffffff" stroke-width="1.1" stroke-dasharray="1.24 1.88" opacity="0.72"/>
<line x1="389" y1="619.8" x2="754.9" y2="619.8" stroke="#ffffff" stroke-width="1.1" stroke-dasharray="1.24 1.88" opacity="0.72"/>
<line x1="389" y1="641.6" x2="754.9" y2="641.6" stroke="#ffffff" stroke-width="1.1" stroke-dasharray="1.24 1.88" opacity="0.72"/>
<line x1="389" y1="663.4" x2="754.9" y2="663.4" stroke="#ffffff" stroke-width="1.1" stroke-dasharray="1.24 1.88" opacity="0.72"/>
<line x1="389" y1="685.2" x2="754.9" y2="685.2" stroke="#ffffff" stroke-width="1.1" stroke-dasharray="1.24 1.88" opacity="0.72"/>
<rect x="695.72" y="424.4" width="19.73" height="260.4" fill="#FBB0C5" />
<rect x="400.8" y="402" width="18.7" height="234" fill="#FBEF92" />
<rect x="400.8" y="636" width="18.7" height="48.8" fill="#FBF7CC" />
<rect x="389" y="621.4" width="11.8" height="63.4" fill="#CBECFD" />
<rect x="419.5" y="586.4" width="19.73" height="98.4" fill="#CBECFD" />
<rect x="439.23" y="597.3" width="19.73" height="87.5" fill="#CBECFD" />
<rect x="458.96" y="546.8" width="19.73" height="138" fill="#CBECFD" />
<rect x="478.69" y="525.5" width="19.73" height="159.3" fill="#CBECFD" />
<rect x="498.42" y="583.8" width="19.73" height="101" fill="#CBECFD" />
<rect x="518.15" y="477.9" width="19.73" height="206.9" fill="#CBECFD" />
<rect x="537.88" y="529.4" width="19.73" height="155.4" fill="#CBECFD" />
<rect x="557.61" y="501.3" width="19.73" height="183.5" fill="#CBECFD" />
<rect x="577.34" y="503.6" width="19.73" height="181.2" fill="#CBECFD" />
<rect x="597.07" y="521.3" width="19.73" height="163.5" fill="#CBECFD" />
<rect x="616.8" y="505.7" width="19.73" height="179.1" fill="#CBECFD" />
<rect x="636.53" y="497.4" width="19.73" height="187.4" fill="#CBECFD" />
<rect x="656.26" y="515.1" width="19.73" height="169.7" fill="#CBECFD" />
<rect x="675.99" y="543.1" width="19.73" height="141.7" fill="#CBECFD" />
<rect x="695.72" y="558.2" width="19.73" height="126.6" fill="#CBECFD" />
<rect x="715.45" y="570.9" width="19.73" height="113.9" fill="#CBECFD" />
<line x1="389" y1="621.4" x2="389" y2="684.8" stroke="#9CD1EA" stroke-width="0.9" opacity="0.7"/>
<line x1="400.8" y1="621.4" x2="400.8" y2="684.8" stroke="#9CD1EA" stroke-width="0.9" opacity="0.7"/>
<line x1="390" y1="622.4" x2="390" y2="684.8" stroke="#DDF4FE" stroke-width="0.9" opacity="0.7"/>
<line x1="419.5" y1="586.4" x2="419.5" y2="684.8" stroke="#9CD1EA" stroke-width="0.9" opacity="0.7"/>
<line x1="439.23" y1="586.4" x2="439.23" y2="684.8" stroke="#9CD1EA" stroke-width="0.9" opacity="0.7"/>
<line x1="420.5" y1="587.4" x2="420.5" y2="684.8" stroke="#DDF4FE" stroke-width="0.9" opacity="0.7"/>
<line x1="439.23" y1="597.3" x2="439.23" y2="684.8" stroke="#9CD1EA" stroke-width="0.9" opacity="0.7"/>
<line x1="458.96" y1="597.3" x2="458.96" y2="684.8" stroke="#9CD1EA" stroke-width="0.9" opacity="0.7"/>
<line x1="440.23" y1="598.3" x2="440.23" y2="684.8" stroke="#DDF4FE" stroke-width="0.9" opacity="0.7"/>
<line x1="458.96" y1="546.8" x2="458.96" y2="684.8" stroke="#9CD1EA" stroke-width="0.9" opacity="0.7"/>
<line x1="478.69" y1="546.8" x2="478.69" y2="684.8" stroke="#9CD1EA" stroke-width="0.9" opacity="0.7"/>
<line x1="459.96" y1="547.8" x2="459.96" y2="684.8" stroke="#DDF4FE" stroke-width="0.9" opacity="0.7"/>
<line x1="478.69" y1="525.5" x2="478.69" y2="684.8" stroke="#9CD1EA" stroke-width="0.9" opacity="0.7"/>
<line x1="498.42" y1="525.5" x2="498.42" y2="684.8" stroke="#9CD1EA" stroke-width="0.9" opacity="0.7"/>
<line x1="479.69" y1="526.5" x2="479.69" y2="684.8" stroke="#DDF4FE" stroke-width="0.9" opacity="0.7"/>
<line x1="498.42" y1="583.8" x2="498.42" y2="684.8" stroke="#9CD1EA" stroke-width="0.9" opacity="0.7"/>
<line x1="518.15" y1="583.8" x2="518.15" y2="684.8" stroke="#9CD1EA" stroke-width="0.9" opacity="0.7"/>
<line x1="499.42" y1="584.8" x2="499.42" y2="684.8" stroke="#DDF4FE" stroke-width="0.9" opacity="0.7"/>
<line x1="518.15" y1="477.9" x2="518.15" y2="684.8" stroke="#9CD1EA" stroke-width="0.9" opacity="0.7"/>
<line x1="537.88" y1="477.9" x2="537.88" y2="684.8" stroke="#9CD1EA" stroke-width="0.9" opacity="0.7"/>
<line x1="519.15" y1="478.9" x2="519.15" y2="684.8" stroke="#DDF4FE" stroke-width="0.9" opacity="0.7"/>
<line x1="537.88" y1="529.4" x2="537.88" y2="684.8" stroke="#9CD1EA" stroke-width="0.9" opacity="0.7"/>
<line x1="557.61" y1="529.4" x2="557.61" y2="684.8" stroke="#9CD1EA" stroke-width="0.9" opacity="0.7"/>
<line x1="538.88" y1="530.4" x2="538.88" y2="684.8" stroke="#DDF4FE" stroke-width="0.9" opacity="0.7"/>
<line x1="557.61" y1="501.3" x2="557.61" y2="684.8" stroke="#9CD1EA" stroke-width="0.9" opacity="0.7"/>
<line x1="577.34" y1="501.3" x2="577.34" y2="684.8" stroke="#9CD1EA" stroke-width="0.9" opacity="0.7"/>
<line x1="558.61" y1="502.3" x2="558.61" y2="684.8" stroke="#DDF4FE" stroke-width="0.9" opacity="0.7"/>
<line x1="577.34" y1="503.6" x2="577.34" y2="684.8" stroke="#9CD1EA" stroke-width="0.9" opacity="0.7"/>
<line x1="597.07" y1="503.6" x2="597.07" y2="684.8" stroke="#9CD1EA" stroke-width="0.9" opacity="0.7"/>
<line x1="578.34" y1="504.6" x2="578.34" y2="684.8" stroke="#DDF4FE" stroke-width="0.9" opacity="0.7"/>
<line x1="597.07" y1="521.3" x2="597.07" y2="684.8" stroke="#9CD1EA" stroke-width="0.9" opacity="0.7"/>
<line x1="616.8" y1="521.3" x2="616.8" y2="684.8" stroke="#9CD1EA" stroke-width="0.9" opacity="0.7"/>
<line x1="598.07" y1="522.3" x2="598.07" y2="684.8" stroke="#DDF4FE" stroke-width="0.9" opacity="0.7"/>
<line x1="616.8" y1="505.7" x2="616.8" y2="684.8" stroke="#9CD1EA" stroke-width="0.9" opacity="0.7"/>
<line x1="636.53" y1="505.7" x2="636.53" y2="684.8" stroke="#9CD1EA" stroke-width="0.9" opacity="0.7"/>
<line x1="617.8" y1="506.7" x2="617.8" y2="684.8" stroke="#DDF4FE" stroke-width="0.9" opacity="0.7"/>
<line x1="636.53" y1="497.4" x2="636.53" y2="684.8" stroke="#9CD1EA" stroke-width="0.9" opacity="0.7"/>
<line x1="656.26" y1="497.4" x2="656.26" y2="684.8" stroke="#9CD1EA" stroke-width="0.9" opacity="0.7"/>
<line x1="637.53" y1="498.4" x2="637.53" y2="684.8" stroke="#DDF4FE" stroke-width="0.9" opacity="0.7"/>
<line x1="656.26" y1="515.1" x2="656.26" y2="684.8" stroke="#9CD1EA" stroke-width="0.9" opacity="0.7"/>
<line x1="675.99" y1="515.1" x2="675.99" y2="684.8" stroke="#9CD1EA" stroke-width="0.9" opacity="0.7"/>
<line x1="657.26" y1="516.1" x2="657.26" y2="684.8" stroke="#DDF4FE" stroke-width="0.9" opacity="0.7"/>
<line x1="675.99" y1="543.1" x2="675.99" y2="684.8" stroke="#9CD1EA" stroke-width="0.9" opacity="0.7"/>
<line x1="695.72" y1="543.1" x2="695.72" y2="684.8" stroke="#9CD1EA" stroke-width="0.9" opacity="0.7"/>
<line x1="676.99" y1="544.1" x2="676.99" y2="684.8" stroke="#DDF4FE" stroke-width="0.9" opacity="0.7"/>
<line x1="695.72" y1="558.2" x2="695.72" y2="684.8" stroke="#9CD1EA" stroke-width="0.9" opacity="0.7"/>
<line x1="715.45" y1="558.2" x2="715.45" y2="684.8" stroke="#9CD1EA" stroke-width="0.9" opacity="0.7"/>
<line x1="696.72" y1="559.2" x2="696.72" y2="684.8" stroke="#DDF4FE" stroke-width="0.9" opacity="0.7"/>
<line x1="715.45" y1="570.9" x2="715.45" y2="684.8" stroke="#9CD1EA" stroke-width="0.9" opacity="0.7"/>
<line x1="735.18" y1="570.9" x2="735.18" y2="684.8" stroke="#9CD1EA" stroke-width="0.9" opacity="0.7"/>
<line x1="716.45" y1="571.9" x2="716.45" y2="684.8" stroke="#DDF4FE" stroke-width="0.9" opacity="0.7"/>
<line x1="419.5" y1="622.5" x2="725.8" y2="622.5" stroke="#F5F09A" stroke-width="2.2" opacity="0.44"/>
<rect x="400.8" y="402" width="18.7" height="234" fill="#FBEF92" />
<rect x="400.8" y="636" width="18.7" height="48.8" fill="#FBF7CC" />
<line x1="419.5" y1="636" x2="419.5" y2="684.8" stroke="#ffffff" stroke-width="1" stroke-dasharray="14 2" opacity="0.5"/>
<rect x="419.5" y="402" width="19.73" height="21.6" fill="#C9EDFB" />
<line x1="419.5" y1="402" x2="419.5" y2="423.6" stroke="#B2DFF3" stroke-width="0.9" />
<rect x="439.23" y="402" width="19.73" height="21.6" fill="#C9EDFB" />
<line x1="439.23" y1="402" x2="439.23" y2="423.6" stroke="#B2DFF3" stroke-width="0.9" />
<rect x="458.96" y="402" width="19.73" height="21.6" fill="#C9EDFB" />
<line x1="458.96" y1="402" x2="458.96" y2="423.6" stroke="#B2DFF3" stroke-width="0.9" />
<rect x="478.69" y="402" width="19.73" height="21.6" fill="#C9EDFB" />
<line x1="478.69" y1="402" x2="478.69" y2="423.6" stroke="#B2DFF3" stroke-width="0.9" />
<rect x="498.42" y="402" width="19.73" height="21.6" fill="#C9EDFB" />
<line x1="498.42" y1="402" x2="498.42" y2="423.6" stroke="#B2DFF3" stroke-width="0.9" />
<rect x="518.15" y="402" width="19.73" height="21.6" fill="#C9EDFB" />
<line x1="518.15" y1="402" x2="518.15" y2="423.6" stroke="#B2DFF3" stroke-width="0.9" />
<rect x="537.88" y="402" width="19.73" height="21.6" fill="#C9EDFB" />
<line x1="537.88" y1="402" x2="537.88" y2="423.6" stroke="#B2DFF3" stroke-width="0.9" />
<rect x="557.61" y="402" width="19.73" height="21.6" fill="#C9EDFB" />
<line x1="557.61" y1="402" x2="557.61" y2="423.6" stroke="#B2DFF3" stroke-width="0.9" />
<rect x="577.34" y="402" width="19.73" height="21.6" fill="#C9EDFB" />
<line x1="577.34" y1="402" x2="577.34" y2="423.6" stroke="#B2DFF3" stroke-width="0.9" />
<rect x="597.07" y="402" width="19.73" height="21.6" fill="#C9EDFB" />
<line x1="597.07" y1="402" x2="597.07" y2="423.6" stroke="#B2DFF3" stroke-width="0.9" />
<rect x="616.8" y="402" width="19.73" height="21.6" fill="#C9EDFB" />
<line x1="616.8" y1="402" x2="616.8" y2="423.6" stroke="#B2DFF3" stroke-width="0.9" />
<rect x="636.53" y="402" width="19.73" height="21.6" fill="#C9EDFB" />
<line x1="636.53" y1="402" x2="636.53" y2="423.6" stroke="#B2DFF3" stroke-width="0.9" />
<rect x="656.26" y="402" width="19.73" height="21.6" fill="#C9EDFB" />
<line x1="656.26" y1="402" x2="656.26" y2="423.6" stroke="#B2DFF3" stroke-width="0.9" />
<rect x="675.99" y="402" width="19.73" height="21.6" fill="#C9EDFB" />
<line x1="675.99" y1="402" x2="675.99" y2="423.6" stroke="#B2DFF3" stroke-width="0.9" />
<rect x="695.72" y="402" width="19.73" height="21.6" fill="#FCD5E0" />
<line x1="695.72" y1="402" x2="695.72" y2="423.6" stroke="#B2DFF3" stroke-width="0.9" />
<rect x="715.45" y="402" width="19.73" height="21.6" fill="#C9EDFB" />
<line x1="715.45" y1="402" x2="715.45" y2="423.6" stroke="#B2DFF3" stroke-width="0.9" />
<rect x="735.18" y="402" width="19.73" height="21.6" fill="#C9EDFB" />
<line x1="735.18" y1="402" x2="735.18" y2="423.6" stroke="#B2DFF3" stroke-width="0.9" />
<line x1="419.5" y1="402.4" x2="754.9" y2="402.4" stroke="#B2DFF3" stroke-width="0.8" />
<text transform="translate(429.37 417.65) scale(0.9 1)" font-size="10.7" fill="#4F6975" text-anchor="middle" stroke="#4F6975" stroke-width="0.2">01</text>
<text transform="translate(449.1 417.65) scale(0.9 1)" font-size="10.7" fill="#4F6975" text-anchor="middle" stroke="#4F6975" stroke-width="0.2">02</text>
<text transform="translate(468.82 417.65) scale(0.9 1)" font-size="10.7" fill="#4F6975" text-anchor="middle" stroke="#4F6975" stroke-width="0.2">03</text>
<text transform="translate(488.56 417.65) scale(0.9 1)" font-size="10.7" fill="#4F6975" text-anchor="middle" stroke="#4F6975" stroke-width="0.2">04</text>
<text transform="translate(508.28 417.65) scale(0.9 1)" font-size="10.7" fill="#4F6975" text-anchor="middle" stroke="#4F6975" stroke-width="0.2">05</text>
<text transform="translate(528.01 417.65) scale(0.9 1)" font-size="10.7" fill="#4F6975" text-anchor="middle" stroke="#4F6975" stroke-width="0.2">06</text>
<text transform="translate(547.75 417.65) scale(0.9 1)" font-size="10.7" fill="#4F6975" text-anchor="middle" stroke="#4F6975" stroke-width="0.2">07</text>
<text transform="translate(567.48 417.65) scale(0.9 1)" font-size="10.7" fill="#4F6975" text-anchor="middle" stroke="#4F6975" stroke-width="0.2">08</text>
<text transform="translate(587.2 417.65) scale(0.9 1)" font-size="10.7" fill="#4F6975" text-anchor="middle" stroke="#4F6975" stroke-width="0.2">09</text>
<text transform="translate(606.93 417.65) scale(0.9 1)" font-size="10.7" fill="#4F6975" text-anchor="middle" stroke="#4F6975" stroke-width="0.2">10</text>
<text transform="translate(626.66 417.65) scale(0.9 1)" font-size="10.7" fill="#4F6975" text-anchor="middle" stroke="#4F6975" stroke-width="0.2">11</text>
<text transform="translate(646.39 417.65) scale(0.9 1)" font-size="10.7" fill="#4F6975" text-anchor="middle" stroke="#4F6975" stroke-width="0.2">12</text>
<text transform="translate(666.12 417.65) scale(0.9 1)" font-size="10.7" fill="#4F6975" text-anchor="middle" stroke="#4F6975" stroke-width="0.2">13</text>
<text transform="translate(685.86 417.65) scale(0.9 1)" font-size="10.7" fill="#4F6975" text-anchor="middle" stroke="#4F6975" stroke-width="0.2">14</text>
<text transform="translate(705.59 417.65) scale(0.9 1)" font-size="10.7" fill="#4F6975" text-anchor="middle" stroke="#4F6975" stroke-width="0.2">15</text>
<text transform="translate(725.32 417.65) scale(0.9 1)" font-size="10.7" fill="#4F6975" text-anchor="middle" stroke="#4F6975" stroke-width="0.2">16</text>
<text transform="translate(745.05 417.65) scale(0.9 1)" font-size="10.7" fill="#4F6975" text-anchor="middle" stroke="#4F6975" stroke-width="0.2">17</text>
<line x1="419.5" y1="423.6" x2="754.9" y2="423.6" stroke="#ffffff" stroke-width="1.1" stroke-dasharray="1.24 1.88" opacity="0.72"/>
<line x1="388.5" y1="621.4" x2="400.3" y2="621.4" stroke="#D84A72" stroke-width="1.3" />
<line x1="401.3" y1="636" x2="419" y2="636" stroke="#D84A72" stroke-width="1.3" />
<line x1="420" y1="586.4" x2="438.73" y2="586.4" stroke="#D84A72" stroke-width="1.3" />
<line x1="439.73" y1="597.3" x2="458.46" y2="597.3" stroke="#D84A72" stroke-width="1.3" />
<line x1="459.46" y1="546.8" x2="478.19" y2="546.8" stroke="#D84A72" stroke-width="1.3" />
<line x1="479.19" y1="525.5" x2="497.92" y2="525.5" stroke="#D84A72" stroke-width="1.3" />
<line x1="498.92" y1="583.8" x2="517.65" y2="583.8" stroke="#D84A72" stroke-width="1.3" />
<line x1="518.65" y1="477.9" x2="537.38" y2="477.9" stroke="#D84A72" stroke-width="1.3" />
<line x1="538.38" y1="529.4" x2="557.11" y2="529.4" stroke="#D84A72" stroke-width="1.3" />
<line x1="558.11" y1="501.3" x2="576.84" y2="501.3" stroke="#D84A72" stroke-width="1.3" />
<line x1="577.84" y1="503.6" x2="596.57" y2="503.6" stroke="#D84A72" stroke-width="1.3" />
<line x1="597.57" y1="521.3" x2="616.3" y2="521.3" stroke="#D84A72" stroke-width="1.3" />
<line x1="617.3" y1="505.7" x2="636.03" y2="505.7" stroke="#D84A72" stroke-width="1.3" />
<line x1="637.03" y1="497.4" x2="655.76" y2="497.4" stroke="#D84A72" stroke-width="1.3" />
<line x1="656.76" y1="515.1" x2="675.49" y2="515.1" stroke="#D84A72" stroke-width="1.3" />
<line x1="676.49" y1="543.1" x2="695.22" y2="543.1" stroke="#D84A72" stroke-width="1.3" />
<line x1="696.22" y1="558.2" x2="714.95" y2="558.2" stroke="#D84A72" stroke-width="1.3" />
<line x1="715.95" y1="570.9" x2="734.68" y2="570.9" stroke="#D84A72" stroke-width="1.3" />
<polyline points="390.9,621.4 410.6,636 430.6,586.4 449.6,597.3 469.6,546.8 489.1,525.5 508.8,583.8 528.6,477.9 548.3,529.4 568.3,501.3 587.4,503.6 607.1,521.3 627.1,505.7 646.6,497.4 666.4,515.1 686.1,543.1 705.6,558.2 725.1,570.9" fill="none" stroke="#D84A72" stroke-width="1.05" stroke-linejoin="round"/>
<rect x="388.55" y="619.05" width="4.7" height="4.7" rx="0.8" fill="#ffffff" stroke="#D84A72" stroke-width="1.1"/>
<rect x="408.25" y="633.65" width="4.7" height="4.7" rx="0.8" fill="#ffffff" stroke="#D84A72" stroke-width="1.1"/>
<rect x="428.25" y="584.05" width="4.7" height="4.7" rx="0.8" fill="#ffffff" stroke="#D84A72" stroke-width="1.1"/>
<rect x="447.25" y="594.95" width="4.7" height="4.7" rx="0.8" fill="#ffffff" stroke="#D84A72" stroke-width="1.1"/>
<rect x="467.25" y="544.45" width="4.7" height="4.7" rx="0.8" fill="#ffffff" stroke="#D84A72" stroke-width="1.1"/>
<rect x="486.75" y="523.15" width="4.7" height="4.7" rx="0.8" fill="#ffffff" stroke="#D84A72" stroke-width="1.1"/>
<rect x="506.45" y="581.45" width="4.7" height="4.7" rx="0.8" fill="#ffffff" stroke="#D84A72" stroke-width="1.1"/>
<rect x="526.25" y="475.55" width="4.7" height="4.7" rx="0.8" fill="#ffffff" stroke="#D84A72" stroke-width="1.1"/>
<rect x="545.95" y="527.05" width="4.7" height="4.7" rx="0.8" fill="#ffffff" stroke="#D84A72" stroke-width="1.1"/>
<rect x="565.95" y="498.95" width="4.7" height="4.7" rx="0.8" fill="#ffffff" stroke="#D84A72" stroke-width="1.1"/>
<rect x="585.05" y="501.25" width="4.7" height="4.7" rx="0.8" fill="#ffffff" stroke="#D84A72" stroke-width="1.1"/>
<rect x="604.75" y="518.95" width="4.7" height="4.7" rx="0.8" fill="#ffffff" stroke="#D84A72" stroke-width="1.1"/>
<rect x="624.75" y="503.35" width="4.7" height="4.7" rx="0.8" fill="#ffffff" stroke="#D84A72" stroke-width="1.1"/>
<rect x="644.25" y="495.05" width="4.7" height="4.7" rx="0.8" fill="#ffffff" stroke="#D84A72" stroke-width="1.1"/>
<rect x="664.05" y="512.75" width="4.7" height="4.7" rx="0.8" fill="#ffffff" stroke="#D84A72" stroke-width="1.1"/>
<rect x="683.75" y="540.75" width="4.7" height="4.7" rx="0.8" fill="#ffffff" stroke="#D84A72" stroke-width="1.1"/>
<rect x="703.25" y="555.85" width="4.7" height="4.7" rx="0.8" fill="#ffffff" stroke="#D84A72" stroke-width="1.1"/>
<rect x="722.75" y="568.55" width="4.7" height="4.7" rx="0.8" fill="#F7A8C0" stroke="#D84A72" stroke-width="1.1"/>
<text transform="translate(413.6 463.3) rotate(-90)" font-size="10" fill="#6A6742" stroke="#6A6742" stroke-width="0.3" textLength="53.5" lengthAdjust="spacingAndGlyphs">ОВУЛЯЦИЯ</text>
<rect x="389" y="684.8" width="365.9" height="22.9" fill="#FCFCFC" />
<rect x="389" y="707.7" width="365.9" height="55" fill="#FAFAFA" />
<line x1="400.8" y1="707.7" x2="400.8" y2="762.7" stroke="#ffffff" stroke-width="1.2" opacity="0.6"/>
<line x1="419.5" y1="707.7" x2="419.5" y2="762.7" stroke="#ffffff" stroke-width="1.2" opacity="0.6"/>
<line x1="439.23" y1="707.7" x2="439.23" y2="762.7" stroke="#ffffff" stroke-width="1.2" opacity="0.6"/>
<line x1="458.96" y1="707.7" x2="458.96" y2="762.7" stroke="#ffffff" stroke-width="1.2" opacity="0.6"/>
<line x1="478.69" y1="707.7" x2="478.69" y2="762.7" stroke="#ffffff" stroke-width="1.2" opacity="0.6"/>
<line x1="498.42" y1="707.7" x2="498.42" y2="762.7" stroke="#ffffff" stroke-width="1.2" opacity="0.6"/>
<line x1="518.15" y1="707.7" x2="518.15" y2="762.7" stroke="#ffffff" stroke-width="1.2" opacity="0.6"/>
<line x1="537.88" y1="707.7" x2="537.88" y2="762.7" stroke="#ffffff" stroke-width="1.2" opacity="0.6"/>
<line x1="557.61" y1="707.7" x2="557.61" y2="762.7" stroke="#ffffff" stroke-width="1.2" opacity="0.6"/>
<line x1="577.34" y1="707.7" x2="577.34" y2="762.7" stroke="#ffffff" stroke-width="1.2" opacity="0.6"/>
<line x1="597.07" y1="707.7" x2="597.07" y2="762.7" stroke="#ffffff" stroke-width="1.2" opacity="0.6"/>
<line x1="616.8" y1="707.7" x2="616.8" y2="762.7" stroke="#ffffff" stroke-width="1.2" opacity="0.6"/>
<line x1="636.53" y1="707.7" x2="636.53" y2="762.7" stroke="#ffffff" stroke-width="1.2" opacity="0.6"/>
<line x1="656.26" y1="707.7" x2="656.26" y2="762.7" stroke="#ffffff" stroke-width="1.2" opacity="0.6"/>
<line x1="675.99" y1="707.7" x2="675.99" y2="762.7" stroke="#ffffff" stroke-width="1.2" opacity="0.6"/>
<line x1="695.72" y1="707.7" x2="695.72" y2="762.7" stroke="#ffffff" stroke-width="1.2" opacity="0.6"/>
<line x1="715.45" y1="707.7" x2="715.45" y2="762.7" stroke="#ffffff" stroke-width="1.2" opacity="0.6"/>
<line x1="735.18" y1="707.7" x2="735.18" y2="762.7" stroke="#ffffff" stroke-width="1.2" opacity="0.6"/>
<line x1="389" y1="708.8" x2="754.9" y2="708.8" stroke="#ffffff" stroke-width="1.4" opacity="0.6"/>
<line x1="389" y1="730" x2="754.9" y2="730" stroke="#ffffff" stroke-width="1.4" opacity="0.6"/>
<line x1="389" y1="751" x2="754.9" y2="751" stroke="#ffffff" stroke-width="1.4" opacity="0.6"/>
<rect x="715.5" y="687.4" width="18.9" height="20.3" fill="#93DAF4" />
<text transform="translate(390.9 701.22) scale(0.9 1)" font-size="10.9" fill="#646464" text-anchor="middle" stroke="#646464" stroke-width="0.15">13</text>
<text transform="translate(410.2 701.22) scale(0.9 1)" font-size="10.9" fill="#646464" text-anchor="middle" stroke="#646464" stroke-width="0.15">14</text>
<text transform="translate(429.37 701.22) scale(0.9 1)" font-size="10.9" fill="#646464" text-anchor="middle" stroke="#646464" stroke-width="0.15">15</text>
<text transform="translate(449.1 701.22) scale(0.9 1)" font-size="10.9" fill="#646464" text-anchor="middle" stroke="#646464" stroke-width="0.15">16</text>
<text transform="translate(468.82 701.22) scale(0.9 1)" font-size="10.9" fill="#646464" text-anchor="middle" stroke="#646464" stroke-width="0.15">17</text>
<text transform="translate(488.56 701.22) scale(0.9 1)" font-size="10.9" fill="#646464" text-anchor="middle" stroke="#646464" stroke-width="0.15">18</text>
<text transform="translate(508.28 701.22) scale(0.9 1)" font-size="10.9" fill="#646464" text-anchor="middle" stroke="#646464" stroke-width="0.15">19</text>
<text transform="translate(528.01 701.22) scale(0.9 1)" font-size="10.9" fill="#646464" text-anchor="middle" stroke="#646464" stroke-width="0.15">20</text>
<text transform="translate(547.75 701.22) scale(0.9 1)" font-size="10.9" fill="#646464" text-anchor="middle" stroke="#646464" stroke-width="0.15">21</text>
<text transform="translate(567.48 701.22) scale(0.9 1)" font-size="10.9" fill="#646464" text-anchor="middle" stroke="#646464" stroke-width="0.15">22</text>
<text transform="translate(587.2 701.22) scale(0.9 1)" font-size="10.9" fill="#646464" text-anchor="middle" stroke="#646464" stroke-width="0.15">23</text>
<text transform="translate(606.93 701.22) scale(0.9 1)" font-size="10.9" fill="#646464" text-anchor="middle" stroke="#646464" stroke-width="0.15">24</text>
<text transform="translate(626.66 701.22) scale(0.9 1)" font-size="10.9" fill="#646464" text-anchor="middle" stroke="#646464" stroke-width="0.15">25</text>
<text transform="translate(646.39 701.22) scale(0.9 1)" font-size="10.9" fill="#646464" text-anchor="middle" stroke="#646464" stroke-width="0.15">26</text>
<text transform="translate(666.12 701.22) scale(0.9 1)" font-size="10.9" fill="#646464" text-anchor="middle" stroke="#646464" stroke-width="0.15">27</text>
<text transform="translate(685.86 701.22) scale(0.9 1)" font-size="10.9" fill="#646464" text-anchor="middle" stroke="#646464" stroke-width="0.15">28</text>
<text transform="translate(705.59 701.22) scale(0.9 1)" font-size="10.9" fill="#646464" text-anchor="middle" stroke="#646464" stroke-width="0.15">29</text>
<text transform="translate(725.32 701.22) scale(0.9 1)" font-size="10.9" fill="#3F5E6C" text-anchor="middle" stroke="#646464" stroke-width="0.15">30</text>
<text transform="translate(745.05 701.22) scale(0.9 1)" font-size="10.9" fill="#646464" text-anchor="middle" stroke="#646464" stroke-width="0.15">31</text>
<circle cx="390.4" cy="719.4" r="7.3" fill="#FAD448"/>
<circle cx="410.4" cy="719.4" r="7.3" fill="#FAD448"/>
<circle cx="429.9" cy="719.4" r="6.8" fill="#FFFFFB" stroke="#F8DF82" stroke-width="1.5"/>
<path transform="translate(719.8 712.2) scale(1.04 1.03)" fill="#F5444B" d="M5 0 C6.6 2.4 10 5.4 10 9 C10 11.8 7.8 14 5 14 C2.2 14 0 11.8 0 9 C0 5.4 3.4 2.4 5 0 Z"/>
<rect x="624.4" y="733.1" width="4" height="14" fill="#8CB71F" rx="2"/>
<rect x="644.1" y="733.1" width="4" height="14" fill="#8CB71F" rx="2"/>
<rect x="683.6" y="733.1" width="4" height="14" fill="#8CB71F" rx="2"/>
<path transform="translate(404.1 756.5) scale(1.05 1.06)" fill="#F652AE" d="M5.2 9.8 C3.6 8.3 0 6.2 0 3.1 C0 1.2 1.4 0 3.1 0 C4.3 0 5.4 0.7 6 1.7 C6.6 0.7 7.7 0 8.9 0 C10.6 0 12 1.2 12 3.1 C12 6.2 8.4 8.3 6.8 9.8 Q6 10.6 5.2 9.8 Z"/>
<path transform="translate(443.3 756.5) scale(1.05 1.06)" fill="#F652AE" d="M5.2 9.8 C3.6 8.3 0 6.2 0 3.1 C0 1.2 1.4 0 3.1 0 C4.3 0 5.4 0.7 6 1.7 C6.6 0.7 7.7 0 8.9 0 C10.6 0 12 1.2 12 3.1 C12 6.2 8.4 8.3 6.8 9.8 Q6 10.6 5.2 9.8 Z"/>
<path transform="translate(581.1 756.5) scale(1.05 1.06)" fill="#F652AE" d="M5.2 9.8 C3.6 8.3 0 6.2 0 3.1 C0 1.2 1.4 0 3.1 0 C4.3 0 5.4 0.7 6 1.7 C6.6 0.7 7.7 0 8.9 0 C10.6 0 12 1.2 12 3.1 C12 6.2 8.4 8.3 6.8 9.8 Q6 10.6 5.2 9.8 Z"/>
</g>
</svg></body></html>
